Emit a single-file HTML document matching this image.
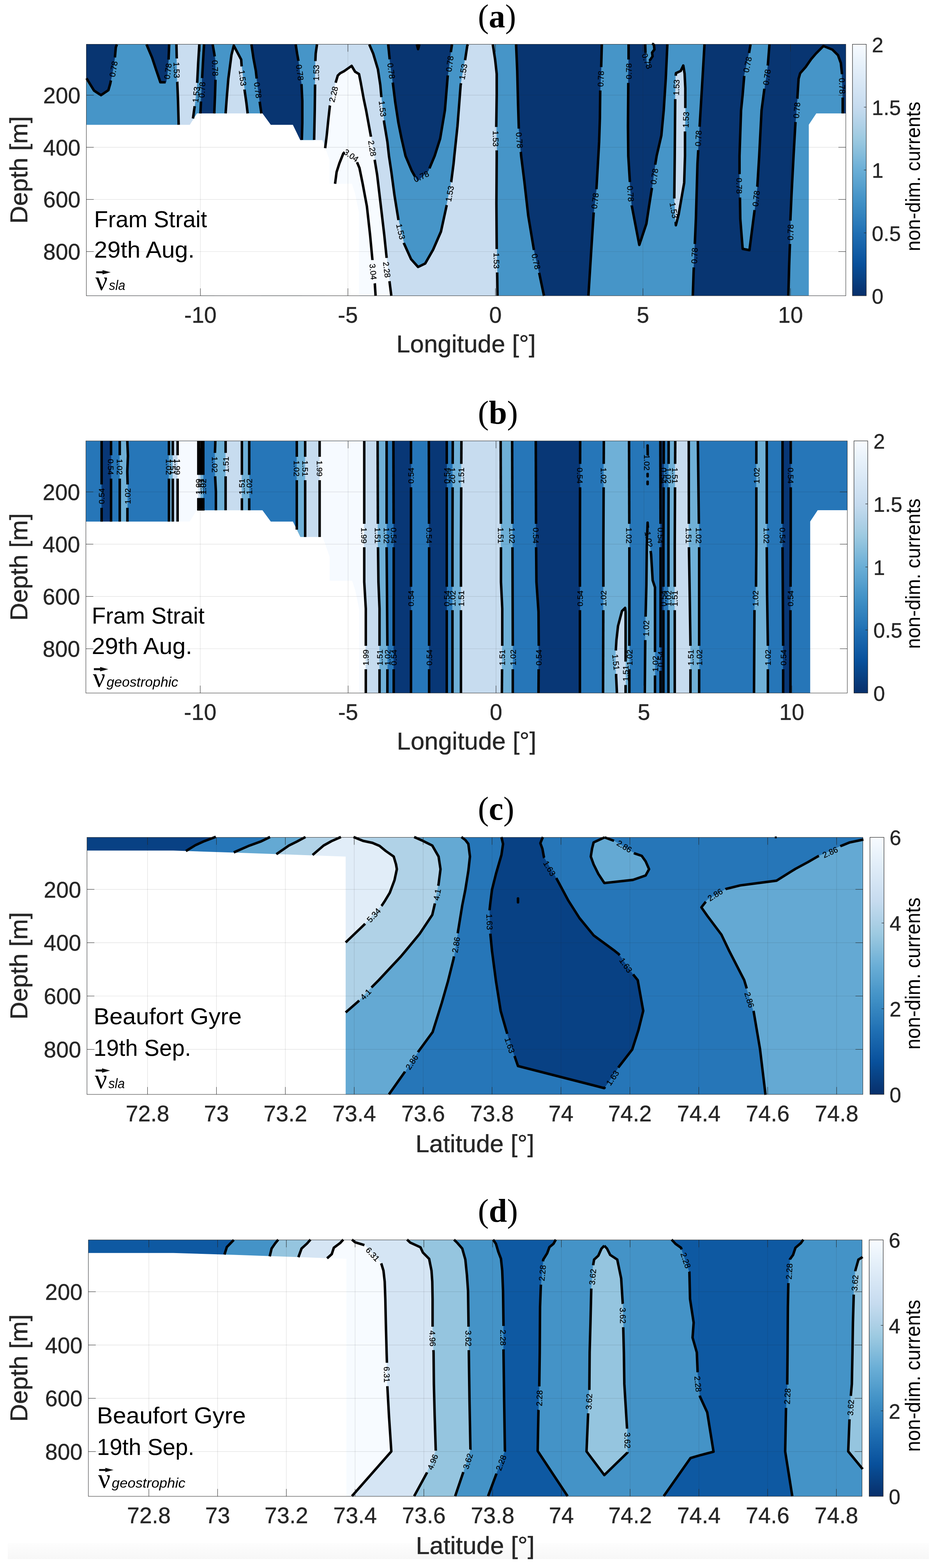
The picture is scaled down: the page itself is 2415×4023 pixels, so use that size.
<!DOCTYPE html>
<html lang="en">
<head>
<meta charset="utf-8">
<title>Non-dimensional currents: Fram Strait and Beaufort Gyre sections</title>
<style>
html,body{margin:0;padding:0;background:#fff;}
body{width:2415px;height:4023px;overflow:hidden;}
svg{display:block;}
text{white-space:pre;}
</style>
</head>
<body>
<svg width="2415" height="4023" viewBox="0 0 2415 4023">
<defs>
<linearGradient id="blues" x1="0" y1="0" x2="0" y2="1">
<stop offset="0.0000" stop-color="#f7fbff"/>
<stop offset="0.0312" stop-color="#f1f7fd"/>
<stop offset="0.0625" stop-color="#eaf3fb"/>
<stop offset="0.0938" stop-color="#e4eff9"/>
<stop offset="0.1250" stop-color="#deebf7"/>
<stop offset="0.1562" stop-color="#d8e7f5"/>
<stop offset="0.1875" stop-color="#d2e3f3"/>
<stop offset="0.2188" stop-color="#ccdff1"/>
<stop offset="0.2500" stop-color="#c6dbef"/>
<stop offset="0.2812" stop-color="#bcd7eb"/>
<stop offset="0.3125" stop-color="#b2d2e8"/>
<stop offset="0.3438" stop-color="#a8cee4"/>
<stop offset="0.3750" stop-color="#9dcae1"/>
<stop offset="0.4062" stop-color="#91c3de"/>
<stop offset="0.4375" stop-color="#84bcdb"/>
<stop offset="0.4688" stop-color="#77b5d9"/>
<stop offset="0.5000" stop-color="#6aaed6"/>
<stop offset="0.5312" stop-color="#60a7d2"/>
<stop offset="0.5625" stop-color="#56a0ce"/>
<stop offset="0.5938" stop-color="#4b98ca"/>
<stop offset="0.6250" stop-color="#4191c6"/>
<stop offset="0.6562" stop-color="#3989c1"/>
<stop offset="0.6875" stop-color="#3181bd"/>
<stop offset="0.7188" stop-color="#2979b9"/>
<stop offset="0.7500" stop-color="#2070b4"/>
<stop offset="0.7812" stop-color="#1a68ae"/>
<stop offset="0.8125" stop-color="#1460a8"/>
<stop offset="0.8438" stop-color="#0e58a2"/>
<stop offset="0.8750" stop-color="#08509b"/>
<stop offset="0.9062" stop-color="#08488e"/>
<stop offset="0.9375" stop-color="#084082"/>
<stop offset="0.9688" stop-color="#083776"/>
<stop offset="1.0000" stop-color="#08306b"/>
</linearGradient>
<linearGradient id="band" x1="0" y1="0" x2="0" y2="1">
<stop offset="0" stop-color="#fdfdfd"/>
<stop offset="1" stop-color="#f7f7f7"/>
</linearGradient>
</defs>
<rect width="2415" height="4023" fill="#fff"/>
<rect x="20" y="3959" width="2364" height="41" fill="url(#band)"/>
<g id="panel-a">
<clipPath id="clip-a"><rect x="221.6" y="113.6" width="1949.1" height="645.1999999999999"/></clipPath>
<g clip-path="url(#clip-a)">
<rect x="221.6" y="113.6" width="1949.1" height="645.1999999999999" fill="#4695c8"/>
<polygon fill="#083571" stroke="#083571" stroke-width="0.6" points="222.0,200.9 241.4,232.5 259.2,244.2 278.2,231.3 283.0,214.3 290.3,177.9 295.1,145.6 297.2,121.3 300.0,114.0 221.6,113.6"/>
<polygon fill="#083571" stroke="#083571" stroke-width="0.6" points="376.0,114.0 390.2,147.6 400.3,177.9 411.6,211.1 426.5,211.1 429.8,186.0 432.6,153.6 434.2,114.0"/>
<polygon fill="#083571" stroke="#083571" stroke-width="0.6" points="523.6,114.0 520.8,161.7 518.7,202.2 515.9,258.8 514.3,291.1 514.3,778.8 549.9,778.8 549.9,291.1 551.9,242.6 553.1,202.2 552.3,153.6 549.9,137.5 545.8,114.0"/>
<polygon fill="#083571" stroke="#083571" stroke-width="0.6" points="645.3,114.0 650.5,149.6 656.6,181.9 658.6,200.1 666.7,262.8 670.8,291.1 670.8,778.8 774.7,778.8 774.7,359.0 775.9,315.4 775.9,258.8 773.9,218.3 765.8,155.7 762.5,137.5 758.9,114.0"/>
<polygon fill="#083571" stroke="#083571" stroke-width="0.6" points="996.2,114.0 1000.3,153.6 1008.4,214.3 1014.4,262.8 1022.5,315.4 1030.6,355.8 1040.7,399.9 1056.9,438.4 1071.8,465.1 1099.3,438.4 1115.5,400.0 1129.6,355.8 1141.8,283.0 1149.1,194.1 1157.1,133.4 1160.0,114.0"/>
<polygon fill="#083571" stroke="#083571" stroke-width="0.6" points="1324.5,114.0 1327.4,181.9 1329.4,262.8 1331.4,327.5 1336.7,390.2 1337.5,400.0 1345.6,464.7 1355.7,553.6 1369.8,638.5 1384.0,701.2 1396.1,759.0 1396.1,778.8 1510.1,778.8 1510.1,759.0 1517.4,642.6 1523.5,547.6 1530.7,484.9 1535.6,400.0 1537.6,363.9 1539.6,303.2 1540.4,234.5 1542.9,173.9 1544.5,114.0"/>
<polygon fill="#083571" stroke="#083571" stroke-width="0.6" points="1613.2,114.0 1613.2,151.6 1612.4,214.3 1611.6,323.5 1612.4,400.0 1616.4,464.7 1621.3,527.4 1640.7,628.4 1658.9,573.9 1665.0,533.4 1673.0,482.9 1681.9,420.2 1685.2,399.9 1697.3,347.7 1703.4,283.0 1708.6,202.2 1712.7,114.0"/>
<polygon fill="#4695c8" stroke="#4695c8" stroke-width="0.6" points="1658.0,114.0 1676.0,114.0 1677.0,127.0 1671.0,135.0 1672.0,144.0 1665.0,156.0 1664.0,172.0 1660.0,160.0 1658.0,135.0"/>
<polygon fill="#083571" stroke="#083571" stroke-width="0.6" points="1808.0,114.0 1803.0,200.0 1797.0,300.0 1790.0,420.0 1786.0,560.0 1782.0,656.0 1780.0,700.0 1778.0,759.0 1778.0,778.8 2023.2,778.8 2023.2,759.0 2025.2,683.0 2027.3,626.4 2028.5,563.7 2031.3,501.1 2036.6,400.0 2041.4,315.4 2046.3,252.7 2049.5,202.2 2053.5,188.0 2067.7,171.8 2081.8,151.6 2094.0,137.5 2113.4,118.1 2136.4,127.4 2150.6,141.5 2157.9,161.7 2160.7,188.0 2162.7,250.7 2162.7,291.1 2175.7,291.0 2175.7,113.6"/>
<polygon fill="#4695c8" stroke="#4695c8" stroke-width="0.6" points="1926.2,114.0 1922.1,137.5 1910.0,194.1 1906.0,242.6 1901.9,283.0 1897.9,400.0 1897.9,444.5 1899.1,509.2 1899.9,561.7 1906.0,638.5 1923.4,641.8 1936.3,541.5 1943.6,478.8 1948.4,400.0 1954.5,283.0 1961.4,230.5 1970.7,165.8 1974.7,114.0"/>
<polygon fill="#c9ddf0" stroke="#c9ddf0" stroke-width="0.6" points="452.8,114.0 453.6,149.6 454.9,210.2 456.9,258.8 458.5,320.2 458.5,778.8 495.3,778.8 495.3,304.0 499.3,274.9 506.2,210.2 508.6,161.7 511.5,114.0"/>
<polygon fill="#c9ddf0" stroke="#c9ddf0" stroke-width="0.6" points="579.0,291.0 582.0,250.0 586.0,202.0 594.0,141.0 600.0,117.0 619.0,153.0 620.0,168.0 627.5,230.0 632.4,264.0 635.6,291.0 635.6,778.8 579.0,778.8"/>
<polygon fill="#c9ddf0" stroke="#c9ddf0" stroke-width="0.6" points="813.5,114.0 810.2,137.5 809.4,155.7 808.6,218.3 807.8,283.0 806.2,359.0 806.2,778.8 1276.8,778.8 1276.8,759.0 1276.0,699.2 1274.8,636.5 1274.0,521.3 1274.8,400.0 1274.8,388.1 1273.6,323.5 1274.8,242.6 1274.8,190.0 1270.8,153.6 1264.7,114.0 1201.0,114.0 1199.2,117.3 1194.3,149.6 1182.2,218.3 1174.1,323.5 1166.0,399.9 1164.0,420.2 1158.0,466.7 1145.8,529.4 1131.7,594.1 1111.5,640.6 1091.2,676.1 1073.0,685.0 1054.9,664.8 1036.7,624.4 1022.5,563.7 1012.4,501.1 1004.3,440.4 998.2,399.9 994.2,363.9 986.1,315.4 979.2,254.7 976.0,218.3 969.9,177.9 957.8,137.5 947.7,114.0"/>
<polygon fill="#f7fbff" stroke="#f7fbff" stroke-width="0.6" points="834.5,380.1 838.5,347.7 842.6,307.3 846.6,271.7 862.0,210.2 866.8,194.1 872.9,188.0 883.0,182.7 902.4,169.0 911.3,184.0 921.4,190.0 925.5,210.2 933.6,254.7 939.6,283.0 951.8,349.7 961.9,412.1 967.9,448.5 978.0,533.4 986.1,602.2 992.2,660.8 999.5,721.4 1004.3,759.0 1004.3,778.8 834.5,778.8"/>
<polygon fill="#c9ddf0" stroke="#c9ddf0" stroke-width="0.6" points="1734.1,194.3 1734.8,187.6 1746.9,182.2 1753.6,168.1 1757.0,189.0 1758.8,226.4 1758.8,277.0 1758.0,337.6 1758.0,400.0 1755.9,468.7 1741.8,549.6 1734.5,577.9 1730.5,507.1 1731.7,400.0 1732.9,254.7 1734.1,194.3"/>
<polygon fill="#fff" points="216.6,320.2 487.2,320.2 505.4,291.1 673.6,291.1 695.0,320.2 751.6,320.2 770.6,359.5 827.5,359.5 845.7,410.3 845.7,471.5 903.3,471.5 911.3,497.0 921.4,545.5 921.4,763.8 216.6,763.8"/>
<polygon fill="#fff" points="2175.7,291.0 2095.0,291.0 2075.7,320.0 2075.7,763.8 2175.7,763.8"/>
<g stroke="#262626" stroke-opacity="0.14" stroke-width="1.2">
<line x1="514.3" y1="113.6" x2="514.3" y2="758.8"/>
<line x1="892.9" y1="113.6" x2="892.9" y2="758.8"/>
<line x1="1271.5" y1="113.6" x2="1271.5" y2="758.8"/>
<line x1="1650.1" y1="113.6" x2="1650.1" y2="758.8"/>
<line x1="2028.7" y1="113.6" x2="2028.7" y2="758.8"/>
<line x1="221.6" y1="244.2" x2="2170.7" y2="244.2"/>
<line x1="221.6" y1="377.9" x2="2170.7" y2="377.9"/>
<line x1="221.6" y1="511.7" x2="2170.7" y2="511.7"/>
<line x1="221.6" y1="645.5" x2="2170.7" y2="645.5"/>
</g>
</g>
<g fill="none" stroke="#000" stroke-width="6.4" stroke-linejoin="round" stroke-linecap="butt">
<polyline points="222.0,200.9 241.4,232.5 259.2,244.2 278.2,231.3 283.0,214.3 284.6,206.4"/>
<polyline points="294.9,147.3 295.1,145.6 297.2,121.3 300.0,114.0"/>
<polyline points="376.0,114.0 390.2,147.6 400.3,177.9 411.6,211.1 425.1,211.1"/>
<polyline points="432.6,152.8 434.2,114.0"/>
<polyline points="452.8,114.0 453.6,149.6 453.6,149.9"/>
<polyline points="454.8,209.9 454.9,210.2 456.9,258.8 458.5,320.2"/>
<polyline points="511.5,114.0 508.6,161.7 506.2,210.2 505.9,212.7"/>
<polyline points="499.6,272.4 499.3,274.9 495.3,304.0"/>
<polyline points="523.6,114.0 520.8,161.7 518.8,200.4"/>
<polyline points="515.8,260.4 514.3,291.1"/>
<polyline points="545.8,114.0 549.9,137.5 551.0,144.8"/>
<polyline points="553.0,204.7 551.9,242.6 549.9,291.1"/>
<polyline points="579.0,291.0 582.0,250.0 586.0,202.0 594.0,141.0 600.0,117.0 619.0,153.0 620.0,168.0 620.3,170.3"/>
<polyline points="627.5,229.8 627.5,230.0 632.4,264.0 635.6,291.0"/>
<polyline points="645.3,114.0 650.5,149.6 656.6,181.9 658.6,200.1 658.8,201.4"/>
<polyline points="666.5,260.9 666.7,262.8 670.8,291.1"/>
<polyline points="758.9,114.0 762.5,137.5 765.8,155.7 765.8,156.2"/>
<polyline points="773.5,215.8 773.9,218.3 775.9,258.8 775.9,315.4 774.7,359.0"/>
<polyline points="813.5,114.0 810.2,137.5 809.4,155.7 809.4,156.8"/>
<polyline points="808.6,216.8 808.6,218.3 807.8,283.0 806.2,359.0"/>
<polyline points="834.5,380.1 838.5,347.7 842.6,307.3 846.6,271.7 846.9,270.6"/>
<polyline points="861.5,212.3 862.0,210.2 866.8,194.1 872.9,188.0 883.0,182.7 902.4,169.0 911.3,184.0 921.4,190.0 925.5,210.2 933.6,254.7 939.6,283.0 951.8,349.7 951.9,350.7"/>
<polyline points="961.5,409.9 961.9,412.1 967.9,448.5 978.0,533.4 986.1,602.2 992.2,660.8 992.3,661.8"/>
<polyline points="999.5,721.4 999.5,721.4 1004.3,759.0"/>
<polyline points="947.7,114.0 957.8,137.5 969.9,177.9 976.0,218.3 978.8,249.2"/>
<polyline points="985.4,308.8 986.1,315.4 994.2,363.9 998.2,399.9 1004.3,440.4 1012.4,501.1 1022.5,563.7 1022.7,564.6"/>
<polyline points="1036.3,623.1 1036.7,624.4 1054.9,664.8 1073.0,685.0 1091.2,676.1 1111.5,640.6 1131.7,594.1 1145.8,529.4 1146.4,526.1"/>
<polyline points="1157.8,467.2 1158.0,466.7 1164.0,420.2 1166.0,399.9 1174.1,323.5 1182.2,218.3 1183.1,213.5"/>
<polyline points="1193.5,154.4 1194.3,149.6 1199.2,117.3 1201.0,114.0"/>
<polyline points="996.2,114.0 1000.1,152.2"/>
<polyline points="1008.0,211.7 1008.4,214.3 1014.4,262.8 1022.5,315.4 1030.6,355.8 1040.7,399.9 1056.9,438.4 1064.7,452.4"/>
<polyline points="1102.1,431.9 1115.5,400.0 1129.6,355.8 1141.8,283.0 1149.1,194.1 1149.1,193.4"/>
<polyline points="1157.1,133.9 1157.1,133.4 1160.0,114.0"/>
<polyline points="1264.7,114.0 1270.8,153.6 1274.8,190.0 1274.8,242.6 1273.6,323.5 1273.6,325.8"/>
<polyline points="1274.8,385.8 1274.8,388.1 1274.8,400.0 1274.0,521.3 1274.8,636.5 1274.8,638.9"/>
<polyline points="1276.0,698.9 1276.0,699.2 1276.8,759.0"/>
<polyline points="1324.5,114.0 1327.4,181.9 1329.4,262.8 1331.4,327.5 1331.6,329.9"/>
<polyline points="1336.6,389.7 1336.7,390.2 1337.5,400.0 1345.6,464.7 1355.7,553.6 1369.8,638.5 1370.4,641.4"/>
<polyline points="1383.7,699.9 1384.0,701.2 1396.1,759.0"/>
<polyline points="1544.5,114.0 1542.9,172.2"/>
<polyline points="1540.5,232.1 1540.4,234.5 1539.6,303.2 1537.6,363.9 1535.6,400.0 1530.7,484.9 1530.7,485.5"/>
<polyline points="1523.7,545.1 1523.5,547.6 1517.4,642.6 1510.1,759.0"/>
<polyline points="1613.2,114.0 1613.2,151.6 1613.2,152.7"/>
<polyline points="1612.4,212.7 1612.4,214.3 1611.6,323.5 1612.4,400.0 1616.4,464.7 1616.6,467.1"/>
<polyline points="1621.3,526.9 1621.3,527.4 1640.7,628.4 1658.9,573.9 1665.0,533.4 1673.0,482.9 1673.2,482.0"/>
<polyline points="1681.6,422.6 1681.9,420.2 1685.2,399.9 1697.3,347.7 1703.4,283.0 1708.6,202.2 1712.7,114.0"/>
<polyline points="1655.9,113.5 1656.6,136.0"/>
<polyline points="1673.5,111.5 1678.2,114.8 1679.5,127.0 1673.5,135.0 1674.8,144.5 1667.4,155.3"/>
<polyline points="1734.1,194.3 1734.8,187.6 1746.9,182.2 1753.6,168.1 1757.0,189.0 1758.8,226.4 1758.8,277.0 1758.8,277.3"/>
<polyline points="1758.0,337.3 1758.0,337.6 1758.0,400.0 1755.9,468.7 1741.8,549.6 1734.5,577.9 1734.0,569.3"/>
<polyline points="1730.6,509.4 1730.5,507.1 1731.7,400.0 1732.9,254.7 1732.9,254.3"/>
<polyline points="1808.0,114.0 1803.0,200.0 1797.0,300.0 1795.5,325.2"/>
<polyline points="1792.0,385.1 1790.0,420.0 1786.0,560.0 1783.2,626.0"/>
<polyline points="1780.6,686.0 1780.0,700.0 1778.0,759.0"/>
<polyline points="1926.2,114.0 1922.4,136.0"/>
<polyline points="1910.0,194.7 1906.0,242.6 1901.9,283.0 1897.9,400.0 1897.9,444.5 1897.9,446.8"/>
<polyline points="1899.1,506.8 1899.1,509.2 1899.9,561.7 1906.0,638.5 1923.4,641.8 1936.3,541.5 1936.6,538.9"/>
<polyline points="1943.5,479.3 1943.6,478.8 1948.4,400.0 1954.5,283.0 1961.4,230.5 1961.8,227.6"/>
<polyline points="1970.3,168.2 1970.7,165.8 1974.7,114.0"/>
<polyline points="2023.2,759.0 2025.2,683.0 2027.3,626.4 2027.3,626.1"/>
<polyline points="2028.4,566.1 2028.5,563.7 2031.3,501.1 2036.6,400.0 2041.4,315.4 2041.6,312.9"/>
<polyline points="2046.2,253.1 2046.3,252.7 2049.5,202.2 2053.5,188.0 2067.7,171.8 2081.8,151.6 2094.0,137.5 2113.4,118.1 2136.4,127.4 2150.6,141.5 2157.9,161.7 2160.7,188.0 2160.8,190.4"/>
<polyline points="2162.7,250.3 2162.7,250.7 2162.7,291.1"/>
<polyline points="859.9,471.5 863.9,441.2 871.0,419.0 881.1,393.7 884.5,390.4"/>
<polyline points="916.3,416.1 917.5,419.0 922.5,431.0 930.8,471.5 941.6,529.4 949.7,602.2 955.8,666.8 955.8,667.2"/>
<polyline points="961.8,726.9 961.9,727.5 963.9,759.0"/>
<polyline points="1069.8,114.0 1073.0,126.1 1076.3,114.0"/>
</g>
<g font-family="'Liberation Sans', sans-serif" font-size="21" fill="#000" stroke="#000" stroke-width="0.35" text-anchor="middle">
<text transform="translate(291.1 177.1) rotate(-80.1)" y="7.6">0.78</text>
<text transform="translate(430.6 182.7) rotate(-82.6)" y="7.6">0.78</text>
<text transform="translate(453.6 179.9) rotate(88.9)" y="7.6">1.53</text>
<text transform="translate(503.0 242.6) rotate(-83.9)" y="7.6">1.53</text>
<text transform="translate(518.3 230.5) rotate(-87.1)" y="7.6">0.78</text>
<text transform="translate(552.3 174.7) rotate(88.0)" y="7.6">0.78</text>
<text transform="translate(623.0 200.1) rotate(83.1)" y="7.6">1.53</text>
<text transform="translate(661.9 231.3) rotate(82.6)" y="7.6">0.78</text>
<text transform="translate(769.8 186.0) rotate(82.6)" y="7.6">0.78</text>
<text transform="translate(811.1 186.8) rotate(-89.3)" y="7.6">1.53</text>
<text transform="translate(855.5 241.8) rotate(-76.0)" y="7.6">2.28</text>
<text transform="translate(955.5 380.5) rotate(80.8)" y="7.6">2.28</text>
<text transform="translate(993.0 691.9) rotate(83.2)" y="7.6">2.28</text>
<text transform="translate(982.1 279.0) rotate(83.7)" y="7.6">1.53</text>
<text transform="translate(1028.6 594.1) rotate(76.9)" y="7.6">1.53</text>
<text transform="translate(1153.9 497.0) rotate(-79.0)" y="7.6">1.53</text>
<text transform="translate(1188.3 184.0) rotate(-80.0)" y="7.6">1.53</text>
<text transform="translate(1004.3 181.9) rotate(82.4)" y="7.6">0.78</text>
<text transform="translate(1081.1 452.6) rotate(-25.0)" y="7.6">0.78</text>
<text transform="translate(1153.9 163.7) rotate(-82.4)" y="7.6">0.78</text>
<text transform="translate(1272.8 355.8) rotate(90.0)" y="7.6">1.53</text>
<text transform="translate(1274.8 668.9) rotate(90.0)" y="7.6">1.53</text>
<text transform="translate(1333.4 359.8) rotate(85.2)" y="7.6">0.78</text>
<text transform="translate(1375.9 670.9) rotate(77.3)" y="7.6">0.78</text>
<text transform="translate(1541.6 202.2) rotate(-87.7)" y="7.6">0.78</text>
<text transform="translate(1526.7 515.2) rotate(-83.4)" y="7.6">0.78</text>
<text transform="translate(1613.2 182.7) rotate(-90.0)" y="7.6">0.78</text>
<text transform="translate(1618.5 497.0) rotate(85.6)" y="7.6">0.78</text>
<text transform="translate(1679.1 452.6) rotate(-81.9)" y="7.6">0.78</text>
<text transform="translate(1660.6 156.6) rotate(70.0)" y="7.6">0.78</text>
<text transform="translate(1735.7 224.4) rotate(-88.0)" y="7.6">1.53</text>
<text transform="translate(1760.0 307.3) rotate(-88.0)" y="7.6">1.53</text>
<text transform="translate(1729.6 539.5) rotate(80.0)" y="7.6">1.53</text>
<text transform="translate(1792.0 355.0) rotate(-86.7)" y="7.6">0.78</text>
<text transform="translate(1782.0 656.0) rotate(-87.5)" y="7.6">0.78</text>
<text transform="translate(1918.1 165.8) rotate(-78.0)" y="7.6">0.78</text>
<text transform="translate(1897.9 476.8) rotate(90.0)" y="7.6">0.78</text>
<text transform="translate(1940.3 509.2) rotate(-83.4)" y="7.6">0.78</text>
<text transform="translate(1967.8 198.1) rotate(-81.8)" y="7.6">0.78</text>
<text transform="translate(2028.5 596.1) rotate(-88.9)" y="7.6">0.78</text>
<text transform="translate(2044.6 283.0) rotate(-85.6)" y="7.6">0.78</text>
<text transform="translate(2161.5 220.4) rotate(88.0)" y="7.6">0.78</text>
<text transform="translate(901.3 398.7) rotate(35.0)" y="7.6">3.04</text>
<text transform="translate(957.8 697.2) rotate(84.3)" y="7.6">3.04</text>
</g>
<g stroke="#262626" stroke-width="1" fill="none">
<rect x="221.6" y="113.6" width="1949.1" height="645.1999999999999"/>
<line x1="514.3" y1="758.8" x2="514.3" y2="739.8"/>
<line x1="514.3" y1="113.6" x2="514.3" y2="132.6"/>
<line x1="892.9" y1="758.8" x2="892.9" y2="739.8"/>
<line x1="892.9" y1="113.6" x2="892.9" y2="132.6"/>
<line x1="1271.5" y1="758.8" x2="1271.5" y2="739.8"/>
<line x1="1271.5" y1="113.6" x2="1271.5" y2="132.6"/>
<line x1="1650.1" y1="758.8" x2="1650.1" y2="739.8"/>
<line x1="1650.1" y1="113.6" x2="1650.1" y2="132.6"/>
<line x1="2028.7" y1="758.8" x2="2028.7" y2="739.8"/>
<line x1="2028.7" y1="113.6" x2="2028.7" y2="132.6"/>
<line x1="221.6" y1="244.2" x2="240.6" y2="244.2"/>
<line x1="2170.7" y1="244.2" x2="2151.7" y2="244.2"/>
<line x1="221.6" y1="377.9" x2="240.6" y2="377.9"/>
<line x1="2170.7" y1="377.9" x2="2151.7" y2="377.9"/>
<line x1="221.6" y1="511.7" x2="240.6" y2="511.7"/>
<line x1="2170.7" y1="511.7" x2="2151.7" y2="511.7"/>
<line x1="221.6" y1="645.5" x2="240.6" y2="645.5"/>
<line x1="2170.7" y1="645.5" x2="2151.7" y2="645.5"/>
</g>
<g font-family="'Liberation Sans', sans-serif" font-size="57.5" fill="#262626" stroke="#262626" stroke-width="0.5">
<text x="514.3" y="827.6" text-anchor="middle">-10</text>
<text x="892.9" y="827.6" text-anchor="middle">-5</text>
<text x="1271.5" y="827.6" text-anchor="middle">0</text>
<text x="1650.1" y="827.6" text-anchor="middle">5</text>
<text x="2028.7" y="827.6" text-anchor="middle">10</text>
<text x="206.6" y="264.9" text-anchor="end">200</text>
<text x="206.6" y="398.6" text-anchor="end">400</text>
<text x="206.6" y="532.4" text-anchor="end">600</text>
<text x="206.6" y="666.2" text-anchor="end">800</text>
</g>
<text font-family="'Liberation Sans', sans-serif" font-size="63.6" fill="#262626" stroke="#262626" stroke-width="0.6" text-anchor="middle" x="1196.1" y="903.9">Longitude [°]</text>
<text font-family="'Liberation Sans', sans-serif" font-size="63.6" fill="#262626" stroke="#262626" stroke-width="0.6" text-anchor="middle" transform="translate(70.3 436.2) rotate(-90)">Depth [m]</text>
<text font-family="'Liberation Serif', serif" font-size="84" fill="#000" text-anchor="start" x="1226.5" y="70.1">(<tspan font-weight="bold">a</tspan>)</text>
<g font-family="'Liberation Sans', sans-serif" font-size="59.7" fill="#000">
<text x="241.6" y="583.1" textLength="289.7" lengthAdjust="spacingAndGlyphs">Fram Strait</text>
<text x="241.6" y="661.3" textLength="257.9" lengthAdjust="spacingAndGlyphs">29th Aug.</text>
</g>
<text font-family="'Liberation Serif', serif" font-size="70" fill="#000" x="244.6" y="743.5">ν</text>
<text font-family="'Liberation Sans', sans-serif" font-style="italic" font-size="35" fill="#000" x="279.6" y="743.5" textLength="42" lengthAdjust="spacingAndGlyphs">sla</text>
<path d="M247.1 695.9 h16.0 v-3 l21 5.6 l-21 5.6 v-3 h-16.0 z" fill="#111"/>
<rect x="2187.8" y="113.6" width="35.4" height="645.1999999999999" fill="url(#blues)"/>
<g stroke="#262626" stroke-width="1.2" fill="none">
<rect x="2187.8" y="113.6" width="35.4" height="645.1999999999999"/>
<line x1="2217.2" y1="597.5" x2="2223.2" y2="597.5"/>
<line x1="2217.2" y1="436.2" x2="2223.2" y2="436.2"/>
<line x1="2217.2" y1="274.9" x2="2223.2" y2="274.9"/>
</g>
<g font-family="'Liberation Sans', sans-serif" font-size="53.5" fill="#262626" stroke="#262626" stroke-width="0.5">
<text x="2237.6" y="778.8">0</text>
<text x="2237.6" y="617.5">0.5</text>
<text x="2237.6" y="456.2">1</text>
<text x="2237.6" y="294.9">1.5</text>
<text x="2237.6" y="133.6">2</text>
</g>
<text font-family="'Liberation Sans', sans-serif" font-size="52" fill="#000" text-anchor="middle" transform="translate(2360.5 452.7) rotate(-90)" textLength="383.5" lengthAdjust="spacingAndGlyphs">non-dim. currents</text>
</g>
<g id="panel-b">
<clipPath id="clip-b"><rect x="220.4" y="1131.2" width="1954.1" height="646.8999999999999"/></clipPath>
<g clip-path="url(#clip-b)">
<rect x="220.4" y="1131.2" width="1954.1" height="646.8999999999999" fill="#2676b8"/>
<polygon fill="#083776" stroke="#083776" stroke-width="0.6" points="260.8,1131.2 260.8,1338.3 260.8,1818.1 285.0,1818.1 285.0,1338.3 285.0,1131.2"/>
<polygon fill="#6fb0d7" stroke="#6fb0d7" stroke-width="0.6" points="307.3,1131.2 307.3,1338.3 307.3,1818.1 327.0,1818.1 327.0,1338.3 327.0,1300.0 327.5,1242.6 326.7,1210.0 328.3,1169.8 326.7,1131.2"/>
<polygon fill="#6fb0d7" stroke="#6fb0d7" stroke-width="0.6" points="433.6,1131.2 433.6,1338.3 433.6,1818.1 443.5,1818.1 443.5,1338.3 443.5,1131.2"/>
<polygon fill="#c7dcef" stroke="#c7dcef" stroke-width="0.6" points="443.5,1131.2 443.5,1338.3 443.5,1818.1 455.8,1818.1 455.8,1338.3 455.8,1131.2"/>
<polygon fill="#f6faff" stroke="#f6faff" stroke-width="0.6" points="455.8,1131.2 455.8,1338.3 455.8,1818.1 509.0,1818.1 509.0,1309.2 509.0,1131.2"/>
<polygon fill="#c7dcef" stroke="#c7dcef" stroke-width="0.6" points="509.0,1131.2 509.0,1309.2 509.0,1818.1 515.3,1818.1 515.3,1309.2 515.3,1131.2"/>
<polygon fill="#6fb0d7" stroke="#6fb0d7" stroke-width="0.6" points="515.3,1131.2 515.3,1309.2 515.3,1818.1 521.6,1818.1 521.6,1309.2 521.6,1131.2"/>
<polygon fill="#6fb0d7" stroke="#6fb0d7" stroke-width="0.6" points="552.7,1131.2 551.7,1161.5 552.1,1222.0 554.1,1261.5 554.1,1309.2 554.1,1818.1 579.0,1818.1 579.0,1309.2 579.0,1131.2"/>
<polygon fill="#c7dcef" stroke="#c7dcef" stroke-width="0.6" points="579.0,1131.2 579.0,1309.2 579.0,1818.1 620.8,1818.1 620.8,1309.2 620.8,1131.2"/>
<polygon fill="#6fb0d7" stroke="#6fb0d7" stroke-width="0.6" points="620.8,1131.2 620.8,1309.2 620.8,1818.1 639.6,1818.1 639.6,1309.2 639.6,1131.2"/>
<polygon fill="#6fb0d7" stroke="#6fb0d7" stroke-width="0.6" points="761.7,1131.2 761.7,1358.9 761.7,1818.1 783.2,1818.1 783.2,1377.7 783.2,1131.2"/>
<polygon fill="#c7dcef" stroke="#c7dcef" stroke-width="0.6" points="783.2,1131.2 783.2,1377.7 783.2,1818.1 820.3,1818.1 820.3,1377.7 820.3,1131.2"/>
<polygon fill="#f6faff" stroke="#f6faff" stroke-width="0.6" points="820.3,1131.2 820.3,1377.7 820.3,1818.1 938.8,1818.1 938.8,1778.1 938.8,1561.7 934.8,1493.0 934.8,1131.2"/>
<polygon fill="#c7dcef" stroke="#c7dcef" stroke-width="0.6" points="934.8,1131.2 934.8,1493.0 938.8,1561.7 938.8,1778.1 938.8,1818.1 974.0,1818.1 974.0,1778.1 974.0,1561.7 971.2,1493.0 970.0,1400.0 969.1,1131.2"/>
<polygon fill="#6fb0d7" stroke="#6fb0d7" stroke-width="0.6" points="969.1,1131.2 970.0,1400.0 971.2,1493.0 974.0,1561.7 974.0,1778.1 974.0,1818.1 994.2,1818.1 994.2,1778.1 994.2,1656.0 992.2,1400.0 992.2,1131.2"/>
<polygon fill="#083776" stroke="#083776" stroke-width="0.6" points="1009.6,1131.2 1010.4,1400.0 1010.4,1778.1 1010.4,1818.1 1054.8,1818.1 1054.8,1778.1 1054.8,1131.2"/>
<polygon fill="#083776" stroke="#083776" stroke-width="0.6" points="1100.5,1131.2 1101.3,1400.0 1101.3,1778.1 1101.3,1818.1 1146.6,1818.1 1146.6,1778.1 1146.6,1131.2"/>
<polygon fill="#6fb0d7" stroke="#6fb0d7" stroke-width="0.6" points="1162.0,1131.2 1161.2,1400.0 1161.2,1778.1 1161.2,1818.1 1183.0,1818.1 1183.0,1778.1 1183.0,1400.0 1184.2,1131.2"/>
<polygon fill="#c7dcef" stroke="#c7dcef" stroke-width="0.6" points="1184.2,1131.2 1183.0,1400.0 1183.0,1778.1 1183.0,1818.1 1288.0,1818.1 1288.0,1778.1 1289.0,1656.7 1289.0,1561.7 1285.7,1493.0 1285.7,1400.0 1284.9,1131.2"/>
<polygon fill="#6fb0d7" stroke="#6fb0d7" stroke-width="0.6" points="1284.9,1131.2 1285.7,1400.0 1285.7,1493.0 1289.0,1561.7 1289.0,1656.7 1288.0,1778.1 1288.0,1818.1 1316.0,1818.1 1316.0,1778.1 1316.0,1656.0 1315.2,1400.0 1314.4,1131.2"/>
<polygon fill="#083776" stroke="#083776" stroke-width="0.6" points="1375.0,1131.2 1375.9,1400.0 1376.7,1493.0 1382.0,1569.8 1382.7,1656.7 1382.0,1778.1 1382.0,1818.1 1488.3,1818.1 1488.3,1778.1 1488.3,1400.0 1489.0,1131.2"/>
<polygon fill="#6fb0d7" stroke="#6fb0d7" stroke-width="0.6" points="1549.7,1131.2 1548.5,1400.0 1548.5,1504.0 1547.7,1778.1 1547.7,1818.1 1615.2,1818.1 1615.2,1778.1 1615.2,1400.0 1614.4,1131.2"/>
<polygon fill="#083776" stroke="#083776" stroke-width="0.6" points="1694.7,1131.2 1695.3,1400.0 1695.3,1778.1 1695.3,1818.1 1702.6,1818.1 1702.6,1778.1 1702.6,1400.0 1703.5,1131.2"/>
<polygon fill="#6fb0d7" stroke="#6fb0d7" stroke-width="0.6" points="1716.0,1131.2 1715.5,1400.0 1715.5,1778.1 1715.5,1818.1 1731.7,1818.1 1731.7,1778.1 1731.7,1400.0 1733.0,1131.2"/>
<polygon fill="#c7dcef" stroke="#c7dcef" stroke-width="0.6" points="1733.0,1131.2 1731.7,1400.0 1731.7,1778.1 1731.7,1818.1 1772.0,1818.1 1772.0,1778.1 1772.0,1656.7 1770.0,1521.0 1768.0,1400.0 1767.6,1131.2"/>
<polygon fill="#6fb0d7" stroke="#6fb0d7" stroke-width="0.6" points="1767.6,1131.2 1768.0,1400.0 1770.0,1521.0 1772.0,1656.7 1772.0,1778.1 1772.0,1818.1 1794.3,1818.1 1794.3,1778.1 1794.3,1400.0 1791.0,1131.2"/>
<polygon fill="#6fb0d7" stroke="#6fb0d7" stroke-width="0.6" points="1941.1,1131.2 1941.1,1400.0 1940.3,1504.3 1936.3,1565.8 1935.1,1778.1 1935.1,1818.1 1970.7,1818.1 1970.7,1778.1 1970.7,1656.7 1968.6,1521.3 1967.8,1404.0 1967.8,1131.2"/>
<polygon fill="#083776" stroke="#083776" stroke-width="0.6" points="2008.3,1131.2 2008.3,1404.0 2009.9,1656.7 2009.9,1778.1 2009.9,1818.1 2028.5,1818.1 2028.5,1778.1 2028.5,1565.8 2029.3,1400.0 2029.3,1131.2"/>
<polygon fill="#c7dcef" stroke="#c7dcef" stroke-width="0.6" points="1583.3,1778.1 1581.3,1735.6 1580.0,1675.0 1582.0,1642.6 1586.1,1606.2 1596.2,1567.8 1604.3,1559.7 1605.5,1569.8 1605.5,1695.0 1605.5,1778.1 1605.5,1808.1 1583.3,1808.1"/>
<polygon fill="#6fb0d7" stroke="#6fb0d7" stroke-width="0.6" points="1654.8,1778.1 1656.0,1642.6 1656.9,1582.0 1658.9,1501.0 1660.0,1400.0 1662.0,1341.0 1665.0,1384.0 1671.0,1422.0 1675.0,1489.0 1681.0,1507.0 1681.0,1778.1 1681.0,1808.1 1654.8,1808.1"/>
<polygon fill="#fff" points="215.4,1338.3 486.7,1338.3 504.9,1309.2 673.6,1309.2 695.0,1338.3 751.8,1338.3 770.8,1377.7 827.9,1377.7 846.1,1428.7 846.1,1490.0 903.8,1490.0 911.9,1515.6 922.0,1564.2 922.0,1783.1 215.4,1783.1"/>
<polygon fill="#fff" points="2179.5,1309.1 2098.6,1309.1 2079.3,1338.1 2079.3,1783.1 2179.5,1783.1"/>
<g stroke="#262626" stroke-opacity="0.14" stroke-width="1.2">
<line x1="513.9" y1="1131.2" x2="513.9" y2="1778.1"/>
<line x1="893.4" y1="1131.2" x2="893.4" y2="1778.1"/>
<line x1="1273.0" y1="1131.2" x2="1273.0" y2="1778.1"/>
<line x1="1652.6" y1="1131.2" x2="1652.6" y2="1778.1"/>
<line x1="2032.1" y1="1131.2" x2="2032.1" y2="1778.1"/>
<line x1="220.4" y1="1262.1" x2="2174.5" y2="1262.1"/>
<line x1="220.4" y1="1396.2" x2="2174.5" y2="1396.2"/>
<line x1="220.4" y1="1530.3" x2="2174.5" y2="1530.3"/>
<line x1="220.4" y1="1664.5" x2="2174.5" y2="1664.5"/>
</g>
</g>
<g fill="none" stroke="#000" stroke-width="6.4" stroke-linejoin="round" stroke-linecap="butt">
<polyline points="260.8,1131.2 260.8,1242.9"/>
<polyline points="260.8,1302.9 260.8,1338.3"/>
<polyline points="285.0,1131.2 285.0,1168.0"/>
<polyline points="285.0,1228.0 285.0,1338.3"/>
<polyline points="307.3,1131.2 307.3,1168.0"/>
<polyline points="307.3,1228.0 307.3,1338.3"/>
<polyline points="326.7,1131.2 328.3,1169.8 326.7,1210.0 327.5,1242.6 327.5,1242.9"/>
<polyline points="327.0,1302.9 327.0,1338.3"/>
<polyline points="433.6,1131.2 433.6,1168.0"/>
<polyline points="433.6,1228.0 433.6,1338.3"/>
<polyline points="443.5,1131.2 443.5,1168.0"/>
<polyline points="443.5,1228.0 443.5,1338.3"/>
<polyline points="455.8,1131.2 455.8,1168.0"/>
<polyline points="455.8,1228.0 455.8,1338.3"/>
<polyline points="509.0,1131.2 509.0,1218.4"/>
<polyline points="509.0,1278.4 509.0,1309.2"/>
<polyline points="515.3,1131.2 515.3,1218.4"/>
<polyline points="515.3,1278.4 515.3,1309.2"/>
<polyline points="521.6,1131.2 521.6,1218.4"/>
<polyline points="521.6,1278.4 521.6,1309.2"/>
<polyline points="552.7,1131.2 551.7,1161.5 551.7,1162.0"/>
<polyline points="552.1,1222.0 552.1,1222.0 554.1,1261.5 554.1,1309.2"/>
<polyline points="579.0,1131.2 579.0,1162.0"/>
<polyline points="579.0,1222.0 579.0,1309.2"/>
<polyline points="620.8,1131.2 620.8,1218.4"/>
<polyline points="620.8,1278.4 620.8,1309.2"/>
<polyline points="639.6,1131.2 639.6,1218.4"/>
<polyline points="639.6,1278.4 639.6,1309.2"/>
<polyline points="761.7,1131.2 761.7,1172.0"/>
<polyline points="761.7,1232.0 761.7,1358.9"/>
<polyline points="783.2,1131.2 783.2,1172.0"/>
<polyline points="783.2,1232.0 783.2,1377.7"/>
<polyline points="820.3,1131.2 820.3,1172.0"/>
<polyline points="820.3,1232.0 820.3,1377.7"/>
<polyline points="934.8,1131.2 934.8,1344.0"/>
<polyline points="934.8,1404.0 934.8,1493.0 938.8,1561.7 938.8,1657.0"/>
<polyline points="938.8,1717.0 938.8,1778.1"/>
<polyline points="969.1,1131.2 969.8,1344.0"/>
<polyline points="970.1,1404.0 971.2,1493.0 974.0,1561.7 974.0,1657.0"/>
<polyline points="974.0,1717.0 974.0,1778.1"/>
<polyline points="992.2,1131.2 992.2,1344.0"/>
<polyline points="992.2,1404.0 994.2,1656.0 994.2,1657.0"/>
<polyline points="994.2,1717.0 994.2,1778.1"/>
<polyline points="1009.6,1131.2 1010.2,1344.0"/>
<polyline points="1010.4,1404.0 1010.4,1657.0"/>
<polyline points="1010.4,1717.0 1010.4,1778.1"/>
<polyline points="1054.8,1131.2 1054.8,1190.3"/>
<polyline points="1054.8,1250.3 1054.8,1505.4"/>
<polyline points="1054.8,1565.4 1054.8,1778.1"/>
<polyline points="1100.5,1131.2 1101.1,1344.0"/>
<polyline points="1101.3,1404.0 1101.3,1657.0"/>
<polyline points="1101.3,1717.0 1101.3,1778.1"/>
<polyline points="1146.6,1131.2 1146.6,1190.3"/>
<polyline points="1146.6,1250.3 1146.6,1505.4"/>
<polyline points="1146.6,1565.4 1146.6,1778.1"/>
<polyline points="1162.0,1131.2 1161.8,1190.3"/>
<polyline points="1161.6,1250.3 1161.2,1400.0 1161.2,1505.4"/>
<polyline points="1161.2,1565.4 1161.2,1778.1"/>
<polyline points="1184.2,1131.2 1183.9,1190.3"/>
<polyline points="1183.7,1250.3 1183.0,1400.0 1183.0,1505.4"/>
<polyline points="1183.0,1565.4 1183.0,1778.1"/>
<polyline points="1284.9,1131.2 1285.5,1344.0"/>
<polyline points="1285.7,1404.0 1285.7,1493.0 1289.0,1561.7 1289.0,1656.7 1289.0,1657.0"/>
<polyline points="1288.5,1717.0 1288.0,1778.1"/>
<polyline points="1314.4,1131.2 1315.0,1344.0"/>
<polyline points="1315.2,1404.0 1316.0,1656.0 1316.0,1657.0"/>
<polyline points="1316.0,1717.0 1316.0,1778.1"/>
<polyline points="1375.0,1131.2 1375.7,1344.0"/>
<polyline points="1375.9,1404.0 1376.7,1493.0 1382.0,1569.8 1382.7,1656.7 1382.7,1657.0"/>
<polyline points="1382.4,1717.0 1382.0,1778.1"/>
<polyline points="1489.0,1131.2 1488.8,1190.3"/>
<polyline points="1488.7,1250.3 1488.3,1400.0 1488.3,1505.4"/>
<polyline points="1488.3,1565.4 1488.3,1778.1"/>
<polyline points="1549.7,1131.2 1549.4,1190.3"/>
<polyline points="1549.2,1250.3 1548.5,1400.0 1548.5,1504.0 1548.5,1505.4"/>
<polyline points="1548.3,1565.4 1547.7,1778.1"/>
<polyline points="1614.4,1131.2 1615.0,1344.0"/>
<polyline points="1615.2,1404.0 1615.2,1657.0"/>
<polyline points="1615.2,1717.0 1615.2,1778.1"/>
<polyline points="1694.7,1131.2 1695.2,1344.0"/>
<polyline points="1695.3,1404.0 1695.3,1661.0"/>
<polyline points="1695.3,1721.0 1695.3,1778.1"/>
<polyline points="1703.5,1131.2 1703.3,1190.3"/>
<polyline points="1703.1,1250.3 1702.6,1400.0 1702.6,1505.4"/>
<polyline points="1702.6,1565.4 1702.6,1778.1"/>
<polyline points="1716.0,1131.2 1715.9,1190.3"/>
<polyline points="1715.8,1250.3 1715.5,1400.0 1715.5,1505.4"/>
<polyline points="1715.5,1565.4 1715.5,1778.1"/>
<polyline points="1733.0,1131.2 1732.7,1190.3"/>
<polyline points="1732.4,1250.3 1731.7,1400.0 1731.7,1505.4"/>
<polyline points="1731.7,1565.4 1731.7,1778.1"/>
<polyline points="1767.6,1131.2 1767.9,1344.0"/>
<polyline points="1768.1,1404.0 1770.0,1521.0 1772.0,1656.7 1772.0,1657.0"/>
<polyline points="1772.0,1717.0 1772.0,1778.1"/>
<polyline points="1791.0,1131.2 1793.6,1344.0"/>
<polyline points="1794.3,1404.0 1794.3,1657.0"/>
<polyline points="1794.3,1717.0 1794.3,1778.1"/>
<polyline points="1941.1,1131.2 1941.1,1190.3"/>
<polyline points="1941.1,1250.3 1941.1,1400.0 1940.3,1504.3 1940.2,1505.5"/>
<polyline points="1936.3,1565.3 1936.3,1565.8 1935.1,1778.1"/>
<polyline points="1967.8,1131.2 1967.8,1344.0"/>
<polyline points="1967.8,1404.0 1968.6,1521.3 1970.7,1656.7 1970.7,1657.0"/>
<polyline points="1970.7,1717.0 1970.7,1778.1"/>
<polyline points="2008.3,1131.2 2008.3,1344.0"/>
<polyline points="2008.3,1404.0 2009.9,1656.7 2009.9,1657.0"/>
<polyline points="2009.9,1717.0 2009.9,1778.1"/>
<polyline points="2029.3,1131.2 2029.3,1190.3"/>
<polyline points="2029.3,1250.3 2029.3,1400.0 2028.8,1505.4"/>
<polyline points="2028.5,1565.4 2028.5,1565.8 2028.5,1778.1"/>
<polyline points="1583.3,1778.1 1581.3,1735.6 1581.2,1729.0"/>
<polyline points="1580.4,1669.0 1582.0,1642.6 1586.1,1606.2 1596.2,1567.8 1604.3,1559.7 1605.5,1569.8 1605.5,1695.0 1605.5,1697.5"/>
<polyline points="1605.5,1757.5 1605.5,1778.1"/>
<polyline points="1654.8,1778.1 1656.0,1642.6 1656.0,1642.2"/>
<polyline points="1656.9,1582.2 1656.9,1582.0 1658.9,1501.0 1660.0,1400.0 1662.0,1341.0 1662.9,1354.1"/>
<polyline points="1669.7,1413.6 1671.0,1422.0 1675.0,1489.0 1681.0,1507.0 1681.0,1673.0"/>
<polyline points="1681.0,1733.0 1681.0,1778.1"/>
<polyline stroke-width="18.8" stroke-linecap="butt" points="515.5,1131.2 515.5,1218.0"/>
<polyline stroke-width="18.8" stroke-linecap="butt" points="515.5,1277.7 515.5,1310.0"/>
<polyline stroke-width="6.5" stroke-linecap="round" points="1662.0,1143.0 1662.3,1166.0"/>
<polyline stroke-width="6.5" stroke-linecap="round" points="1662.0,1216.0 1662.0,1222.0"/>
<polyline stroke-width="6.5" stroke-linecap="round" points="1662.0,1236.0 1662.0,1242.0"/>
</g>
<g font-family="'Liberation Sans', sans-serif" font-size="21" fill="#000" stroke="#000" stroke-width="0.35" text-anchor="middle">
<text transform="translate(260.8 1272.9) rotate(-90.0)" y="7.6">0.54</text>
<text transform="translate(285.0 1198.0) rotate(90.0)" y="7.6">0.54</text>
<text transform="translate(307.3 1198.0) rotate(90.0)" y="7.6">1.02</text>
<text transform="translate(327.2 1272.9) rotate(-90.0)" y="7.6">1.02</text>
<text transform="translate(433.6 1198.0) rotate(90.0)" y="7.6">1.02</text>
<text transform="translate(443.5 1198.0) rotate(90.0)" y="7.6">1.51</text>
<text transform="translate(455.8 1198.0) rotate(90.0)" y="7.6">1.99</text>
<text transform="translate(509.0 1248.4) rotate(-90.0)" y="7.6">1.99</text>
<text transform="translate(515.3 1248.4) rotate(-90.0)" y="7.6">1.51</text>
<text transform="translate(521.6 1248.4) rotate(-90.0)" y="7.6">1.02</text>
<text transform="translate(551.9 1192.0) rotate(90.0)" y="7.6">1.02</text>
<text transform="translate(579.0 1192.0) rotate(-90.0)" y="7.6">1.51</text>
<text transform="translate(620.8 1248.4) rotate(-90.0)" y="7.6">1.51</text>
<text transform="translate(639.6 1248.4) rotate(-90.0)" y="7.6">1.02</text>
<text transform="translate(761.7 1202.0) rotate(90.0)" y="7.6">1.02</text>
<text transform="translate(783.2 1202.0) rotate(90.0)" y="7.6">1.51</text>
<text transform="translate(820.3 1202.0) rotate(90.0)" y="7.6">1.99</text>
<text transform="translate(934.8 1374.0) rotate(90.0)" y="7.6">1.99</text>
<text transform="translate(938.8 1687.0) rotate(-90.0)" y="7.6">1.99</text>
<text transform="translate(969.9 1374.0) rotate(90.0)" y="7.6">1.51</text>
<text transform="translate(974.0 1687.0) rotate(-90.0)" y="7.6">1.51</text>
<text transform="translate(992.2 1374.0) rotate(90.0)" y="7.6">1.02</text>
<text transform="translate(994.2 1687.0) rotate(-90.0)" y="7.6">1.02</text>
<text transform="translate(1010.3 1374.0) rotate(90.0)" y="7.6">0.54</text>
<text transform="translate(1010.4 1687.0) rotate(-90.0)" y="7.6">0.54</text>
<text transform="translate(1054.8 1220.3) rotate(-90.0)" y="7.6">0.54</text>
<text transform="translate(1054.8 1535.4) rotate(-90.0)" y="7.6">0.54</text>
<text transform="translate(1101.2 1374.0) rotate(90.0)" y="7.6">0.54</text>
<text transform="translate(1101.3 1687.0) rotate(-90.0)" y="7.6">0.54</text>
<text transform="translate(1146.6 1220.3) rotate(-90.0)" y="7.6">0.54</text>
<text transform="translate(1146.6 1535.4) rotate(-90.0)" y="7.6">0.54</text>
<text transform="translate(1161.7 1220.3) rotate(90.0)" y="7.6">1.02</text>
<text transform="translate(1161.2 1535.4) rotate(-90.0)" y="7.6">1.02</text>
<text transform="translate(1183.8 1220.3) rotate(-90.0)" y="7.6">1.51</text>
<text transform="translate(1183.0 1535.4) rotate(-90.0)" y="7.6">1.51</text>
<text transform="translate(1285.6 1374.0) rotate(90.0)" y="7.6">1.51</text>
<text transform="translate(1288.8 1687.0) rotate(-90.0)" y="7.6">1.51</text>
<text transform="translate(1315.1 1374.0) rotate(90.0)" y="7.6">1.02</text>
<text transform="translate(1316.0 1687.0) rotate(-90.0)" y="7.6">1.02</text>
<text transform="translate(1375.8 1374.0) rotate(90.0)" y="7.6">0.54</text>
<text transform="translate(1382.5 1687.0) rotate(-90.0)" y="7.6">0.54</text>
<text transform="translate(1488.8 1220.3) rotate(90.0)" y="7.6">0.54</text>
<text transform="translate(1488.3 1535.4) rotate(-90.0)" y="7.6">0.54</text>
<text transform="translate(1549.3 1220.3) rotate(90.0)" y="7.6">1.02</text>
<text transform="translate(1548.4 1535.4) rotate(-90.0)" y="7.6">1.02</text>
<text transform="translate(1615.1 1374.0) rotate(90.0)" y="7.6">1.02</text>
<text transform="translate(1615.2 1687.0) rotate(-90.0)" y="7.6">1.02</text>
<text transform="translate(1695.2 1374.0) rotate(90.0)" y="7.6">0.54</text>
<text transform="translate(1695.3 1691.0) rotate(-90.0)" y="7.6">0.54</text>
<text transform="translate(1703.2 1220.3) rotate(90.0)" y="7.6">0.54</text>
<text transform="translate(1702.6 1535.4) rotate(-90.0)" y="7.6">0.54</text>
<text transform="translate(1715.8 1220.3) rotate(90.0)" y="7.6">1.02</text>
<text transform="translate(1715.5 1535.4) rotate(-90.0)" y="7.6">1.02</text>
<text transform="translate(1732.6 1220.3) rotate(90.0)" y="7.6">1.51</text>
<text transform="translate(1731.7 1535.4) rotate(-90.0)" y="7.6">1.51</text>
<text transform="translate(1768.0 1374.0) rotate(90.0)" y="7.6">1.51</text>
<text transform="translate(1772.0 1687.0) rotate(-90.0)" y="7.6">1.51</text>
<text transform="translate(1794.0 1374.0) rotate(90.0)" y="7.6">1.02</text>
<text transform="translate(1794.3 1687.0) rotate(-90.0)" y="7.6">1.02</text>
<text transform="translate(1941.1 1220.3) rotate(-90.0)" y="7.6">1.02</text>
<text transform="translate(1938.3 1535.4) rotate(-90.0)" y="7.6">1.02</text>
<text transform="translate(1967.8 1374.0) rotate(90.0)" y="7.6">1.02</text>
<text transform="translate(1970.7 1687.0) rotate(-90.0)" y="7.6">1.02</text>
<text transform="translate(2008.3 1374.0) rotate(90.0)" y="7.6">0.54</text>
<text transform="translate(2009.9 1687.0) rotate(-90.0)" y="7.6">0.54</text>
<text transform="translate(2029.3 1220.3) rotate(90.0)" y="7.6">0.54</text>
<text transform="translate(2028.6 1535.4) rotate(-90.0)" y="7.6">0.54</text>
<text transform="translate(1580.9 1699.0) rotate(84.0)" y="7.6">1.51</text>
<text transform="translate(1605.5 1727.5) rotate(-90.0)" y="7.6">1.51</text>
<text transform="translate(1658.0 1612.2) rotate(-89.0)" y="7.6">1.02</text>
<text transform="translate(1665.0 1384.0) rotate(82.0)" y="7.6">1.02</text>
<text transform="translate(1681.0 1703.0) rotate(-90.0)" y="7.6">1.02</text>
<text transform="translate(1660.5 1186.7) rotate(90.0)" y="7.6">1.02</text>
</g>
<g stroke="#262626" stroke-width="1" fill="none">
<rect x="220.4" y="1131.2" width="1954.1" height="646.8999999999999"/>
<line x1="513.9" y1="1778.1" x2="513.9" y2="1759.1"/>
<line x1="513.9" y1="1131.2" x2="513.9" y2="1150.2"/>
<line x1="893.4" y1="1778.1" x2="893.4" y2="1759.1"/>
<line x1="893.4" y1="1131.2" x2="893.4" y2="1150.2"/>
<line x1="1273.0" y1="1778.1" x2="1273.0" y2="1759.1"/>
<line x1="1273.0" y1="1131.2" x2="1273.0" y2="1150.2"/>
<line x1="1652.6" y1="1778.1" x2="1652.6" y2="1759.1"/>
<line x1="1652.6" y1="1131.2" x2="1652.6" y2="1150.2"/>
<line x1="2032.1" y1="1778.1" x2="2032.1" y2="1759.1"/>
<line x1="2032.1" y1="1131.2" x2="2032.1" y2="1150.2"/>
<line x1="220.4" y1="1262.1" x2="239.4" y2="1262.1"/>
<line x1="2174.5" y1="1262.1" x2="2155.5" y2="1262.1"/>
<line x1="220.4" y1="1396.2" x2="239.4" y2="1396.2"/>
<line x1="2174.5" y1="1396.2" x2="2155.5" y2="1396.2"/>
<line x1="220.4" y1="1530.3" x2="239.4" y2="1530.3"/>
<line x1="2174.5" y1="1530.3" x2="2155.5" y2="1530.3"/>
<line x1="220.4" y1="1664.5" x2="239.4" y2="1664.5"/>
<line x1="2174.5" y1="1664.5" x2="2155.5" y2="1664.5"/>
</g>
<g font-family="'Liberation Sans', sans-serif" font-size="57.5" fill="#262626" stroke="#262626" stroke-width="0.5">
<text x="513.9" y="1846.9" text-anchor="middle">-10</text>
<text x="893.4" y="1846.9" text-anchor="middle">-5</text>
<text x="1273.0" y="1846.9" text-anchor="middle">0</text>
<text x="1652.6" y="1846.9" text-anchor="middle">5</text>
<text x="2032.1" y="1846.9" text-anchor="middle">10</text>
<text x="205.4" y="1282.8" text-anchor="end">200</text>
<text x="205.4" y="1416.9" text-anchor="end">400</text>
<text x="205.4" y="1551.0" text-anchor="end">600</text>
<text x="205.4" y="1685.2" text-anchor="end">800</text>
</g>
<text font-family="'Liberation Sans', sans-serif" font-size="63.6" fill="#262626" stroke="#262626" stroke-width="0.6" text-anchor="middle" x="1197.5" y="1923.2">Longitude [°]</text>
<text font-family="'Liberation Sans', sans-serif" font-size="63.6" fill="#262626" stroke="#262626" stroke-width="0.6" text-anchor="middle" transform="translate(70.3 1454.7) rotate(-90)">Depth [m]</text>
<text font-family="'Liberation Serif', serif" font-size="84" fill="#000" text-anchor="start" x="1226.5" y="1086.7">(<tspan font-weight="bold">b</tspan>)</text>
<g font-family="'Liberation Sans', sans-serif" font-size="59.7" fill="#000">
<text x="235.4" y="1600.1" textLength="289.7" lengthAdjust="spacingAndGlyphs">Fram Strait</text>
<text x="235.4" y="1678.3" textLength="257.9" lengthAdjust="spacingAndGlyphs">29th Aug.</text>
</g>
<text font-family="'Liberation Serif', serif" font-size="70" fill="#000" x="238.4" y="1761.9">ν</text>
<text font-family="'Liberation Sans', sans-serif" font-style="italic" font-size="35" fill="#000" x="273.4" y="1761.9" textLength="184" lengthAdjust="spacingAndGlyphs">geostrophic</text>
<path d="M240.9 1714.3 h16.0 v-3 l21 5.6 l-21 5.6 v-3 h-16.0 z" fill="#111"/>
<rect x="2191.6" y="1131.2" width="35.4" height="646.8999999999999" fill="url(#blues)"/>
<g stroke="#262626" stroke-width="1.2" fill="none">
<rect x="2191.6" y="1131.2" width="35.4" height="646.8999999999999"/>
<line x1="2221.0" y1="1616.4" x2="2227.0" y2="1616.4"/>
<line x1="2221.0" y1="1454.7" x2="2227.0" y2="1454.7"/>
<line x1="2221.0" y1="1292.9" x2="2227.0" y2="1292.9"/>
</g>
<g font-family="'Liberation Sans', sans-serif" font-size="53.5" fill="#262626" stroke="#262626" stroke-width="0.5">
<text x="2241.4" y="1798.1">0</text>
<text x="2241.4" y="1636.4">0.5</text>
<text x="2241.4" y="1474.7">1</text>
<text x="2241.4" y="1312.9">1.5</text>
<text x="2241.4" y="1151.2">2</text>
</g>
<text font-family="'Liberation Sans', sans-serif" font-size="52" fill="#000" text-anchor="middle" transform="translate(2360.5 1471.9) rotate(-90)" textLength="385.8" lengthAdjust="spacingAndGlyphs">non-dim. currents</text>
</g>
<g id="panel-c">
<clipPath id="clip-c"><rect x="223.2" y="2148.4" width="1991.3" height="659.5"/></clipPath>
<g clip-path="url(#clip-c)">
<rect x="223.2" y="2148.4" width="1991.3" height="659.5" fill="#2676b8"/>
<polygon fill="#084184" stroke="#084184" stroke-width="0.6" points="218.2,2143.4 553.9,2143.4 553.9,2147.1 521.6,2159.3 501.3,2168.6 477.1,2183.5 477.1,2223.5 218.2,2223.5"/>
<polygon fill="#64a9d3" stroke="#64a9d3" stroke-width="0.6" points="600.0,2187.0 640.4,2169.4 668.7,2159.3 693.0,2147.5 693.0,2143.4 784.0,2143.4 784.0,2147.5 761.7,2159.3 741.5,2169.4 709.2,2191.6 709.2,2231.6 600.0,2227.0"/>
<polygon fill="#b0d2e7" stroke="#b0d2e7" stroke-width="0.6" points="709.2,2191.6 741.5,2169.4 761.7,2159.3 784.0,2147.5 784.0,2143.4 874.9,2143.4 874.9,2147.5 850.7,2158.1 830.5,2169.4 802.2,2193.6 802.2,2233.6 709.2,2231.6"/>
<polygon fill="#e1edf8" stroke="#e1edf8" stroke-width="0.6" points="802.2,2193.6 830.5,2169.4 850.7,2158.1 874.9,2147.5 874.9,2143.4 907.3,2143.4 907.3,2147.5 931.5,2157.3 955.8,2162.5 974.0,2170.2 990.2,2183.5 1010.4,2197.7 1016.4,2217.9 1018.5,2230.0 1012.4,2258.3 1000.3,2290.7 988.1,2310.9 980.1,2323.0 935.6,2371.5 887.1,2418.0 857.1,2418.0 857.1,2233.6 802.2,2233.6"/>
<polygon fill="#b0d2e7" stroke="#b0d2e7" stroke-width="0.6" points="907.3,2147.5 931.5,2157.3 955.8,2162.5 974.0,2170.2 990.2,2183.5 1010.4,2197.7 1016.4,2217.9 1018.5,2230.0 1012.4,2258.3 1000.3,2290.7 988.1,2310.9 980.1,2323.0 935.6,2371.5 887.1,2418.0 857.1,2418.0 857.1,2597.7 887.1,2597.7 919.4,2569.4 955.8,2531.0 972.0,2514.8 1028.6,2454.2 1040.7,2439.9 1077.1,2395.8 1109.4,2347.3 1115.5,2321.0 1125.6,2268.4 1130.5,2230.0 1125.6,2197.7 1109.4,2169.4 1085.2,2157.3 1062.9,2147.5 1062.9,2143.4 907.3,2143.4"/>
<polygon fill="#64a9d3" stroke="#64a9d3" stroke-width="0.6" points="1062.9,2147.5 1085.2,2157.3 1109.4,2169.4 1125.6,2197.7 1130.5,2230.0 1125.6,2268.4 1115.5,2321.0 1109.4,2347.3 1077.1,2395.8 1040.7,2439.9 1028.6,2454.2 972.0,2514.8 955.8,2531.0 919.4,2569.4 887.1,2597.7 857.1,2597.7 857.1,2837.9 998.2,2837.9 998.2,2807.9 1038.7,2750.5 1073.0,2698.8 1110.2,2648.2 1133.7,2573.4 1149.9,2516.8 1164.0,2460.2 1174.1,2397.8 1186.3,2323.0 1194.3,2282.6 1202.0,2234.1 1206.1,2197.7 1202.0,2165.3 1194.3,2155.2 1184.2,2147.5 1184.2,2143.4 1062.9,2143.4"/>
<polygon fill="#084184" stroke="#084184" stroke-width="0.6" points="1286.9,2147.5 1291.0,2165.3 1286.9,2193.6 1272.8,2242.2 1262.7,2282.6 1258.6,2314.9 1256.6,2333.1 1258.6,2397.8 1262.7,2439.9 1272.8,2516.8 1284.9,2593.6 1301.1,2650.2 1321.3,2711.7 1329.4,2735.1 1550.9,2791.8 1588.1,2737.2 1622.5,2692.7 1638.7,2642.2 1650.8,2593.6 1636.7,2514.8 1624.5,2499.8 1588.1,2448.1 1578.0,2439.9 1523.5,2399.8 1487.1,2355.4 1458.8,2310.9 1428.4,2254.3 1396.1,2199.7 1392.0,2177.5 1386.8,2163.3 1393.3,2147.5"/>
<polygon fill="#64a9d3" stroke="#64a9d3" stroke-width="0.6" points="1551.8,2148.4 1523.5,2161.3 1519.4,2177.5 1516.2,2197.7 1523.5,2217.9 1535.6,2242.2 1550.9,2265.6 1624.5,2257.5 1656.9,2246.2 1665.8,2230.0 1656.9,2209.8 1646.8,2195.7 1628.6,2189.6 1576.0,2157.3 1551.8,2148.4"/>
<polygon fill="#64a9d3" stroke="#64a9d3" stroke-width="0.6" points="2216.0,2154.0 2180.9,2161.3 2158.7,2170.2 2098.0,2197.7 2073.8,2211.8 2041.4,2229.2 1992.9,2259.5 1899.9,2271.7 1863.5,2280.6 1815.0,2309.0 1800.0,2328.0 1815.0,2349.3 1851.4,2397.8 1871.6,2440.0 1910.0,2514.8 1916.1,2535.0 1934.3,2595.7 1950.4,2690.7 1964.6,2809.0 2219.5,2812.9 2219.5,2148.4"/>
<polygon fill="#fff" points="218.2,2182.3 444.7,2182.3 600.0,2187.6 887.1,2197.7 887.1,2812.9 218.2,2812.9"/>
<g stroke="#262626" stroke-opacity="0.14" stroke-width="1.2">
<line x1="378.6" y1="2148.4" x2="378.6" y2="2807.9"/>
<line x1="555.5" y1="2148.4" x2="555.5" y2="2807.9"/>
<line x1="732.3" y1="2148.4" x2="732.3" y2="2807.9"/>
<line x1="909.1" y1="2148.4" x2="909.1" y2="2807.9"/>
<line x1="1086.0" y1="2148.4" x2="1086.0" y2="2807.9"/>
<line x1="1262.8" y1="2148.4" x2="1262.8" y2="2807.9"/>
<line x1="1439.7" y1="2148.4" x2="1439.7" y2="2807.9"/>
<line x1="1616.6" y1="2148.4" x2="1616.6" y2="2807.9"/>
<line x1="1793.4" y1="2148.4" x2="1793.4" y2="2807.9"/>
<line x1="1970.2" y1="2148.4" x2="1970.2" y2="2807.9"/>
<line x1="2147.1" y1="2148.4" x2="2147.1" y2="2807.9"/>
<line x1="223.2" y1="2281.8" x2="2214.5" y2="2281.8"/>
<line x1="223.2" y1="2418.7" x2="2214.5" y2="2418.7"/>
<line x1="223.2" y1="2555.5" x2="2214.5" y2="2555.5"/>
<line x1="223.2" y1="2692.4" x2="2214.5" y2="2692.4"/>
</g>
</g>
<g fill="none" stroke="#000" stroke-width="6.4" stroke-linejoin="round" stroke-linecap="butt">
<polyline points="477.1,2183.5 501.3,2168.6 521.6,2159.3 553.9,2147.1"/>
<polyline points="600.0,2187.0 640.4,2169.4 668.7,2159.3 693.0,2147.5"/>
<polyline points="709.2,2191.6 741.5,2169.4 761.7,2159.3 784.0,2147.5"/>
<polyline points="802.2,2193.6 830.5,2169.4 850.7,2158.1 874.9,2147.5"/>
<polyline points="907.3,2147.5 931.5,2157.3 955.8,2162.5 974.0,2170.2 990.2,2183.5 1010.4,2197.7 1016.4,2217.9 1018.5,2230.0 1012.4,2258.3 1000.3,2290.7 988.1,2310.9 980.1,2323.0 978.9,2324.3"/>
<polyline points="937.0,2370.0 935.6,2371.5 887.1,2418.0"/>
<polyline points="1062.9,2147.5 1085.2,2157.3 1109.4,2169.4 1125.6,2197.7 1130.5,2230.0 1125.6,2268.4 1124.8,2272.7"/>
<polyline points="1116.1,2317.9 1115.5,2321.0 1109.4,2347.3 1077.1,2395.8 1040.7,2439.9 1028.6,2454.2 972.0,2514.8 955.8,2531.0 953.3,2533.6"/>
<polyline points="921.7,2567.0 919.4,2569.4 887.1,2597.7"/>
<polyline points="1184.2,2147.5 1194.3,2155.2 1202.0,2165.3 1206.1,2197.7 1202.0,2234.1 1194.3,2282.6 1186.3,2323.0 1174.7,2394.4"/>
<polyline points="1165.1,2453.7 1164.0,2460.2 1149.9,2516.8 1133.7,2573.4 1110.2,2648.2 1073.0,2698.8 1072.6,2699.5"/>
<polyline points="1039.4,2749.4 1038.7,2750.5 998.2,2807.9"/>
<polyline points="1286.9,2147.5 1291.0,2165.3 1286.9,2193.6 1272.8,2242.2 1262.7,2282.6 1258.6,2314.9 1256.6,2333.1 1256.7,2335.5"/>
<polyline points="1258.6,2395.4 1258.6,2397.8 1262.7,2439.9 1272.8,2516.8 1284.9,2593.6 1301.1,2650.2 1301.8,2652.4"/>
<polyline points="1320.5,2709.4 1321.3,2711.7 1329.4,2735.1 1550.9,2791.8 1552.9,2788.8"/>
<polyline points="1586.7,2739.2 1588.1,2737.2 1622.5,2692.7 1638.7,2642.2 1650.8,2593.6 1636.7,2514.8 1624.8,2500.1"/>
<polyline points="1590.2,2451.0 1588.1,2448.1 1578.0,2439.9 1523.5,2399.8 1487.1,2355.4 1458.8,2310.9 1428.4,2254.3 1427.5,2252.7"/>
<polyline points="1396.9,2201.0 1396.1,2199.7 1392.0,2177.5 1386.8,2163.3 1393.3,2147.5"/>
<polyline points="1551.8,2148.4 1523.5,2161.3 1519.4,2177.5 1516.2,2197.7 1523.5,2217.9 1535.6,2242.2 1550.9,2265.6 1624.5,2257.5 1656.9,2246.2 1665.8,2230.0 1656.9,2209.8 1646.8,2195.7 1628.6,2189.6 1626.9,2188.6"/>
<polyline points="1575.8,2157.2 1551.8,2148.4"/>
<polyline points="2216.0,2154.0 2180.9,2161.3 2158.7,2170.2 2156.5,2171.2"/>
<polyline points="2101.8,2196.0 2098.0,2197.7 2073.8,2211.8 2041.4,2229.2 1992.9,2259.5 1899.9,2271.7 1863.5,2280.6 1861.8,2281.6"/>
<polyline points="1811.4,2313.5 1800.0,2328.0 1815.0,2349.3 1851.4,2397.8 1871.6,2440.0 1910.0,2514.8 1916.1,2535.0 1916.4,2536.1"/>
<polyline points="1933.7,2593.6 1934.3,2595.7 1950.4,2690.7 1964.6,2809.0"/>
<polyline stroke-width="6.5" stroke-linecap="round" points="1329.4,2305.2 1329.4,2314.9"/>
<polyline stroke-width="5" stroke-linecap="butt" points="1990.9,2146.0 1990.9,2151.0"/>
</g>
<g font-family="'Liberation Sans', sans-serif" font-size="21" fill="#000" stroke="#000" stroke-width="0.35" text-anchor="middle">
<text transform="translate(959.0 2348.1) rotate(-47.5)" y="7.6">5.34</text>
<text transform="translate(1121.6 2295.5) rotate(-79.1)" y="7.6">4.1</text>
<text transform="translate(938.4 2551.2) rotate(-46.5)" y="7.6">4.1</text>
<text transform="translate(1170.1 2424.1) rotate(-80.8)" y="7.6">2.86</text>
<text transform="translate(1056.9 2725.0) rotate(-56.4)" y="7.6">2.86</text>
<text transform="translate(1256.6 2365.5) rotate(88.2)" y="7.6">1.63</text>
<text transform="translate(1308.4 2681.8) rotate(71.8)" y="7.6">1.63</text>
<text transform="translate(1572.0 2765.5) rotate(-55.7)" y="7.6">1.63</text>
<text transform="translate(1606.3 2476.4) rotate(54.9)" y="7.6">1.63</text>
<text transform="translate(1410.2 2228.0) rotate(59.3)" y="7.6">1.63</text>
<text transform="translate(1602.3 2171.4) rotate(31.6)" y="7.6">2.86</text>
<text transform="translate(2130.4 2186.4) rotate(-24.4)" y="7.6">2.86</text>
<text transform="translate(1835.2 2295.5) rotate(-32.4)" y="7.6">2.86</text>
<text transform="translate(1923.4 2565.3) rotate(73.3)" y="7.6">2.86</text>
</g>
<g stroke="#262626" stroke-width="1" fill="none">
<rect x="223.2" y="2148.4" width="1991.3" height="659.5"/>
<line x1="378.6" y1="2807.9" x2="378.6" y2="2788.9"/>
<line x1="378.6" y1="2148.4" x2="378.6" y2="2167.4"/>
<line x1="555.5" y1="2807.9" x2="555.5" y2="2788.9"/>
<line x1="555.5" y1="2148.4" x2="555.5" y2="2167.4"/>
<line x1="732.3" y1="2807.9" x2="732.3" y2="2788.9"/>
<line x1="732.3" y1="2148.4" x2="732.3" y2="2167.4"/>
<line x1="909.1" y1="2807.9" x2="909.1" y2="2788.9"/>
<line x1="909.1" y1="2148.4" x2="909.1" y2="2167.4"/>
<line x1="1086.0" y1="2807.9" x2="1086.0" y2="2788.9"/>
<line x1="1086.0" y1="2148.4" x2="1086.0" y2="2167.4"/>
<line x1="1262.8" y1="2807.9" x2="1262.8" y2="2788.9"/>
<line x1="1262.8" y1="2148.4" x2="1262.8" y2="2167.4"/>
<line x1="1439.7" y1="2807.9" x2="1439.7" y2="2788.9"/>
<line x1="1439.7" y1="2148.4" x2="1439.7" y2="2167.4"/>
<line x1="1616.6" y1="2807.9" x2="1616.6" y2="2788.9"/>
<line x1="1616.6" y1="2148.4" x2="1616.6" y2="2167.4"/>
<line x1="1793.4" y1="2807.9" x2="1793.4" y2="2788.9"/>
<line x1="1793.4" y1="2148.4" x2="1793.4" y2="2167.4"/>
<line x1="1970.2" y1="2807.9" x2="1970.2" y2="2788.9"/>
<line x1="1970.2" y1="2148.4" x2="1970.2" y2="2167.4"/>
<line x1="2147.1" y1="2807.9" x2="2147.1" y2="2788.9"/>
<line x1="2147.1" y1="2148.4" x2="2147.1" y2="2167.4"/>
<line x1="223.2" y1="2281.8" x2="242.2" y2="2281.8"/>
<line x1="2214.5" y1="2281.8" x2="2195.5" y2="2281.8"/>
<line x1="223.2" y1="2418.7" x2="242.2" y2="2418.7"/>
<line x1="2214.5" y1="2418.7" x2="2195.5" y2="2418.7"/>
<line x1="223.2" y1="2555.5" x2="242.2" y2="2555.5"/>
<line x1="2214.5" y1="2555.5" x2="2195.5" y2="2555.5"/>
<line x1="223.2" y1="2692.4" x2="242.2" y2="2692.4"/>
<line x1="2214.5" y1="2692.4" x2="2195.5" y2="2692.4"/>
</g>
<g font-family="'Liberation Sans', sans-serif" font-size="57.5" fill="#262626" stroke="#262626" stroke-width="0.5">
<text x="378.6" y="2876.7" text-anchor="middle">72.8</text>
<text x="555.5" y="2876.7" text-anchor="middle">73</text>
<text x="732.3" y="2876.7" text-anchor="middle">73.2</text>
<text x="909.1" y="2876.7" text-anchor="middle">73.4</text>
<text x="1086.0" y="2876.7" text-anchor="middle">73.6</text>
<text x="1262.8" y="2876.7" text-anchor="middle">73.8</text>
<text x="1439.7" y="2876.7" text-anchor="middle">74</text>
<text x="1616.6" y="2876.7" text-anchor="middle">74.2</text>
<text x="1793.4" y="2876.7" text-anchor="middle">74.4</text>
<text x="1970.2" y="2876.7" text-anchor="middle">74.6</text>
<text x="2147.1" y="2876.7" text-anchor="middle">74.8</text>
<text x="208.2" y="2302.5" text-anchor="end">200</text>
<text x="208.2" y="2439.3" text-anchor="end">400</text>
<text x="208.2" y="2576.2" text-anchor="end">600</text>
<text x="208.2" y="2713.1" text-anchor="end">800</text>
</g>
<text font-family="'Liberation Sans', sans-serif" font-size="63.6" fill="#262626" stroke="#262626" stroke-width="0.6" text-anchor="middle" x="1218.8" y="2955.9">Latitude [°]</text>
<text font-family="'Liberation Sans', sans-serif" font-size="63.6" fill="#262626" stroke="#262626" stroke-width="0.6" text-anchor="middle" transform="translate(70.3 2478.2) rotate(-90)">Depth [m]</text>
<text font-family="'Liberation Serif', serif" font-size="84" fill="#000" text-anchor="start" x="1226.5" y="2103.4">(<tspan font-weight="bold">c</tspan>)</text>
<g font-family="'Liberation Sans', sans-serif" font-size="59.7" fill="#000">
<text x="240.2" y="2628.0" textLength="380" lengthAdjust="spacingAndGlyphs">Beaufort Gyre</text>
<text x="240.2" y="2708.9" textLength="250" lengthAdjust="spacingAndGlyphs">19th Sep.</text>
</g>
<text font-family="'Liberation Serif', serif" font-size="70" fill="#000" x="243.2" y="2791.7">ν</text>
<text font-family="'Liberation Sans', sans-serif" font-style="italic" font-size="35" fill="#000" x="278.2" y="2791.7" textLength="42" lengthAdjust="spacingAndGlyphs">sla</text>
<path d="M245.7 2744.1 h16.0 v-3 l21 5.6 l-21 5.6 v-3 h-16.0 z" fill="#111"/>
<rect x="2232.6" y="2148.4" width="36.0" height="659.5" fill="url(#blues)"/>
<g stroke="#262626" stroke-width="1.2" fill="none">
<rect x="2232.6" y="2148.4" width="36.0" height="659.5"/>
<line x1="2262.6" y1="2588.1" x2="2268.6" y2="2588.1"/>
<line x1="2262.6" y1="2368.2" x2="2268.6" y2="2368.2"/>
</g>
<g font-family="'Liberation Sans', sans-serif" font-size="53.5" fill="#262626" stroke="#262626" stroke-width="0.5">
<text x="2283.0" y="2827.9">0</text>
<text x="2283.0" y="2608.1">2</text>
<text x="2283.0" y="2388.2">4</text>
<text x="2283.0" y="2168.4">6</text>
</g>
<text font-family="'Liberation Sans', sans-serif" font-size="52.9" fill="#000" text-anchor="middle" transform="translate(2360.5 2497.8) rotate(-90)" textLength="390" lengthAdjust="spacingAndGlyphs">non-dim. currents</text>
</g>
<g id="panel-d">
<clipPath id="clip-d"><rect x="226.8" y="3181.2" width="1985.6000000000001" height="657.9000000000001"/></clipPath>
<g clip-path="url(#clip-d)">
<rect x="226.8" y="3181.2" width="1985.6000000000001" height="657.9000000000001" fill="#4493c7"/>
<polygon fill="#0e59a2" stroke="#0e59a2" stroke-width="0.6" points="221.8,3176.2 600.0,3176.2 600.0,3181.2 582.2,3199.4 576.1,3218.8 576.1,3258.8 221.8,3258.8"/>
<polygon fill="#95c5df" stroke="#95c5df" stroke-width="0.6" points="692.2,3223.6 697.0,3203.4 705.9,3190.5 714.0,3180.4 714.0,3176.2 796.9,3176.2 796.9,3180.4 788.0,3190.5 773.9,3203.4 765.8,3225.7 765.8,3265.7 692.2,3263.6"/>
<polygon fill="#d5e5f4" stroke="#d5e5f4" stroke-width="0.6" points="765.8,3225.7 773.9,3203.4 788.0,3190.5 796.9,3180.4 796.9,3176.2 881.0,3176.2 881.0,3180.4 872.9,3189.3 856.7,3201.4 851.5,3217.6 839.4,3228.5 839.4,3268.5 765.8,3265.7"/>
<polygon fill="#f7fbff" stroke="#f7fbff" stroke-width="0.6" points="839.4,3228.5 851.5,3217.6 856.7,3201.4 872.9,3189.3 881.0,3180.4 881.0,3176.2 903.2,3176.2 903.2,3180.4 911.3,3187.3 937.6,3195.3 978.0,3239.8 984.1,3260.0 987.3,3288.3 988.9,3332.8 990.2,3393.5 992.2,3469.9 993.0,3496.3 994.2,3558.9 998.2,3631.7 1004.3,3723.9 903.2,3838.7 903.2,3869.1 859.1,3869.1 859.1,3268.5 839.4,3268.5"/>
<polygon fill="#d5e5f4" stroke="#d5e5f4" stroke-width="0.6" points="903.2,3180.4 911.3,3187.3 937.6,3195.3 978.0,3239.8 984.1,3260.0 987.3,3288.3 988.9,3332.8 990.2,3393.5 992.2,3469.9 993.0,3496.3 994.2,3558.9 998.2,3631.7 1004.3,3723.9 903.2,3838.7 903.2,3869.1 1062.9,3869.1 1062.9,3838.7 1095.3,3779.3 1118.3,3722.7 1115.5,3631.7 1113.5,3550.9 1112.7,3470.0 1110.2,3401.5 1110.2,3332.8 1109.4,3288.3 1107.4,3260.0 1101.3,3229.7 1085.2,3213.5 1079.1,3200.2 1052.8,3188.1 1044.7,3180.4 1044.7,3176.2 903.2,3176.2"/>
<polygon fill="#95c5df" stroke="#95c5df" stroke-width="0.6" points="1044.7,3180.4 1052.8,3188.1 1079.1,3200.2 1085.2,3213.5 1101.3,3229.7 1107.4,3260.0 1109.4,3288.3 1110.2,3332.8 1110.2,3401.5 1112.7,3470.0 1113.5,3550.9 1115.5,3631.7 1118.3,3722.7 1095.3,3779.3 1062.9,3838.7 1062.9,3869.1 1168.1,3869.1 1168.1,3838.7 1188.3,3779.3 1207.3,3718.7 1204.9,3591.3 1203.2,3470.0 1202.4,3397.5 1201.2,3312.6 1198.4,3272.2 1194.3,3231.7 1186.3,3203.4 1174.1,3189.3 1165.2,3180.4 1165.2,3176.2 1044.7,3176.2"/>
<polygon fill="#0e59a2" stroke="#0e59a2" stroke-width="0.6" points="1265.5,3180.4 1272.8,3191.3 1278.8,3211.5 1285.7,3229.7 1288.9,3260.0 1291.0,3312.6 1292.2,3401.5 1292.2,3470.0 1293.8,3591.3 1295.8,3722.7 1274.0,3781.3 1252.6,3838.7 1252.6,3869.1 1456.7,3869.1 1456.7,3838.7 1379.9,3722.7 1381.9,3617.6 1384.0,3554.9 1385.2,3469.9 1386.0,3353.0 1388.0,3298.4 1394.1,3231.7 1404.2,3215.6 1410.2,3199.4 1420.4,3191.3 1426.4,3180.4 1426.4,3176.2 1265.5,3176.2"/>
<polygon fill="#95c5df" stroke="#95c5df" stroke-width="0.6" points="1550.9,3196.1 1543.7,3203.4 1535.6,3221.6 1524.7,3231.7 1522.6,3243.9 1517.4,3308.5 1515.4,3393.5 1513.3,3469.9 1512.5,3565.0 1509.3,3627.7 1505.3,3723.9 1550.9,3784.6 1610.4,3726.7 1609.2,3664.1 1602.3,3550.9 1601.1,3470.0 1599.5,3405.6 1598.2,3344.9 1594.2,3280.2 1584.1,3231.7 1565.9,3219.6 1557.8,3203.4 1550.9,3196.1"/>
<polygon fill="#0e59a2" stroke="#0e59a2" stroke-width="0.6" points="1723.6,3180.4 1733.7,3191.3 1747.8,3201.4 1769.3,3264.1 1770.9,3332.8 1780.2,3393.5 1777.4,3431.9 1788.3,3469.9 1790.3,3518.5 1796.4,3583.2 1815.0,3623.6 1831.2,3724.7 1800.0,3732.8 1772.1,3740.9 1703.4,3838.7 1703.4,3869.1 2033.3,3869.1 2033.3,3838.7 2015.1,3723.9 2017.2,3613.5 2020.4,3550.9 2021.2,3469.9 2022.0,3353.0 2023.2,3292.4 2027.3,3230.9 2035.4,3219.6 2041.4,3201.4 2055.6,3189.3 2061.6,3180.4 2061.6,3176.2 1723.6,3176.2"/>
<polygon fill="#95c5df" stroke="#95c5df" stroke-width="0.6" points="2214.0,3225.0 2203.1,3231.7 2195.1,3260.0 2191.0,3322.7 2189.0,3393.5 2187.8,3469.9 2186.2,3550.9 2183.7,3579.2 2180.1,3641.8 2176.9,3723.9 2214.1,3769.2 2217.4,3769.2 2217.4,3225.0"/>
<polygon fill="#fff" points="221.8,3214.7 444.7,3214.7 574.1,3218.8 600.0,3219.6 889.1,3229.7 889.1,3844.1 221.8,3844.1"/>
<g stroke="#262626" stroke-opacity="0.14" stroke-width="1.2">
<line x1="382.0" y1="3181.2" x2="382.0" y2="3839.1"/>
<line x1="558.5" y1="3181.2" x2="558.5" y2="3839.1"/>
<line x1="734.9" y1="3181.2" x2="734.9" y2="3839.1"/>
<line x1="911.3" y1="3181.2" x2="911.3" y2="3839.1"/>
<line x1="1087.8" y1="3181.2" x2="1087.8" y2="3839.1"/>
<line x1="1264.2" y1="3181.2" x2="1264.2" y2="3839.1"/>
<line x1="1440.7" y1="3181.2" x2="1440.7" y2="3839.1"/>
<line x1="1617.1" y1="3181.2" x2="1617.1" y2="3839.1"/>
<line x1="1793.6" y1="3181.2" x2="1793.6" y2="3839.1"/>
<line x1="1970.0" y1="3181.2" x2="1970.0" y2="3839.1"/>
<line x1="2146.5" y1="3181.2" x2="2146.5" y2="3839.1"/>
<line x1="226.8" y1="3314.2" x2="2212.4" y2="3314.2"/>
<line x1="226.8" y1="3450.9" x2="2212.4" y2="3450.9"/>
<line x1="226.8" y1="3587.6" x2="2212.4" y2="3587.6"/>
<line x1="226.8" y1="3724.3" x2="2212.4" y2="3724.3"/>
</g>
</g>
<g fill="none" stroke="#000" stroke-width="6.4" stroke-linejoin="round" stroke-linecap="butt">
<polyline points="576.1,3218.8 582.2,3199.4 600.0,3181.2"/>
<polyline points="692.2,3223.6 697.0,3203.4 705.9,3190.5 714.0,3180.4"/>
<polyline points="765.8,3225.7 773.9,3203.4 788.0,3190.5 796.9,3180.4"/>
<polyline points="839.4,3228.5 851.5,3217.6 856.7,3201.4 872.9,3189.3 881.0,3180.4"/>
<polyline points="903.2,3180.4 911.3,3187.3 935.2,3194.6"/>
<polyline points="978.4,3241.2 984.1,3260.0 987.3,3288.3 988.9,3332.8 990.2,3393.5 992.2,3469.9 993.0,3496.3 993.0,3496.6"/>
<polyline points="994.2,3556.6 994.2,3558.9 998.2,3631.7 1004.3,3723.9 903.2,3838.7"/>
<polyline points="1044.7,3180.4 1052.8,3188.1 1079.1,3200.2 1085.2,3213.5 1101.3,3229.7 1107.4,3260.0 1109.4,3288.3 1110.2,3332.8 1110.2,3401.5 1110.3,3403.9"/>
<polyline points="1112.4,3463.8 1112.7,3470.0 1113.5,3550.9 1115.5,3631.7 1118.3,3722.0"/>
<polyline points="1096.0,3777.6 1095.3,3779.3 1062.9,3838.7"/>
<polyline points="1165.2,3180.4 1174.1,3189.3 1186.3,3203.4 1194.3,3231.7 1198.4,3272.2 1201.2,3312.6 1202.4,3397.5 1202.5,3403.9"/>
<polyline points="1203.2,3463.9 1203.2,3470.0 1204.9,3591.3 1207.3,3718.7 1207.0,3719.6"/>
<polyline points="1189.0,3776.8 1188.3,3779.3 1168.1,3838.7"/>
<polyline points="1265.5,3180.4 1272.8,3191.3 1278.8,3211.5 1285.7,3229.7 1288.9,3260.0 1291.0,3312.6 1292.2,3401.5 1292.2,3401.9"/>
<polyline points="1292.2,3461.9 1292.2,3470.0 1293.8,3591.3 1295.8,3722.7 1295.1,3724.5"/>
<polyline points="1274.2,3780.7 1274.0,3781.3 1252.6,3838.7"/>
<polyline points="1426.4,3180.4 1420.4,3191.3 1410.2,3199.4 1404.2,3215.6 1394.1,3231.7 1393.7,3236.2"/>
<polyline points="1388.2,3295.9 1388.0,3298.4 1386.0,3353.0 1385.2,3469.9 1384.0,3554.9 1383.9,3557.2"/>
<polyline points="1382.0,3617.2 1381.9,3617.6 1379.9,3722.7 1456.7,3838.7"/>
<polyline points="1550.9,3196.1 1543.7,3203.4 1535.6,3221.6 1524.7,3231.7 1522.6,3243.9 1522.4,3246.2"/>
<polyline points="1517.6,3306.1 1517.4,3308.5 1515.4,3393.5 1513.3,3469.9 1512.5,3565.0 1512.5,3566.2"/>
<polyline points="1509.4,3626.1 1509.3,3627.7 1505.3,3723.9 1550.9,3784.6 1610.4,3726.7 1610.4,3725.6"/>
<polyline points="1609.2,3665.6 1609.2,3664.1 1602.3,3550.9 1601.1,3470.0 1599.5,3405.6 1599.5,3405.2"/>
<polyline points="1598.3,3345.3 1598.2,3344.9 1594.2,3280.2 1584.1,3231.7 1565.9,3219.6 1557.8,3203.4 1550.9,3196.1"/>
<polyline points="1723.6,3180.4 1733.7,3191.3 1747.8,3201.4 1749.3,3205.7"/>
<polyline points="1768.7,3262.5 1769.3,3264.1 1770.9,3332.8 1780.2,3393.5 1777.4,3431.9 1788.3,3469.9 1790.3,3518.5 1790.5,3520.8"/>
<polyline points="1796.1,3580.6 1796.4,3583.2 1815.0,3623.6 1831.2,3724.7 1800.0,3732.8 1772.1,3740.9 1703.4,3838.7"/>
<polyline points="2061.6,3180.4 2055.6,3189.3 2041.4,3201.4 2035.4,3219.6 2027.3,3230.9 2027.2,3232.1"/>
<polyline points="2023.2,3292.0 2023.2,3292.4 2022.0,3353.0 2021.2,3469.9 2020.4,3550.9 2020.3,3552.4"/>
<polyline points="2017.2,3612.3 2017.2,3613.5 2015.1,3723.9 2033.3,3838.7"/>
<polyline points="2214.0,3225.0 2203.1,3231.7 2195.1,3260.0 2195.0,3261.6"/>
<polyline points="2191.1,3321.4 2191.0,3322.7 2189.0,3393.5 2187.8,3469.9 2186.2,3550.9 2183.7,3579.2 2183.6,3581.5"/>
<polyline points="2180.1,3641.4 2180.1,3641.8 2176.9,3723.9 2214.1,3769.2"/>
</g>
<g font-family="'Liberation Sans', sans-serif" font-size="21" fill="#000" stroke="#000" stroke-width="0.35" text-anchor="middle">
<text transform="translate(956.6 3218.0) rotate(47.2)" y="7.6">6.31</text>
<text transform="translate(993.0 3526.6) rotate(88.9)" y="7.6">6.31</text>
<text transform="translate(1110.2 3433.9) rotate(88.0)" y="7.6">4.96</text>
<text transform="translate(1110.2 3751.0) rotate(-68.1)" y="7.6">4.96</text>
<text transform="translate(1202.3 3433.9) rotate(89.4)" y="7.6">3.62</text>
<text transform="translate(1200.5 3749.0) rotate(-72.6)" y="7.6">3.62</text>
<text transform="translate(1291.4 3431.9) rotate(90.0)" y="7.6">2.28</text>
<text transform="translate(1285.7 3753.0) rotate(-69.6)" y="7.6">2.28</text>
<text transform="translate(1391.6 3266.1) rotate(-84.8)" y="7.6">2.28</text>
<text transform="translate(1384.0 3587.3) rotate(-88.2)" y="7.6">2.28</text>
<text transform="translate(1520.6 3276.2) rotate(-85.4)" y="7.6">3.62</text>
<text transform="translate(1511.3 3596.1) rotate(-87.0)" y="7.6">3.62</text>
<text transform="translate(1610.4 3695.6) rotate(88.9)" y="7.6">3.62</text>
<text transform="translate(1598.7 3375.3) rotate(88.9)" y="7.6">3.62</text>
<text transform="translate(1760.0 3233.7) rotate(71.1)" y="7.6">2.28</text>
<text transform="translate(1791.5 3550.9) rotate(84.6)" y="7.6">2.28</text>
<text transform="translate(2025.2 3262.0) rotate(-86.2)" y="7.6">2.28</text>
<text transform="translate(2020.4 3582.4) rotate(-87.0)" y="7.6">2.28</text>
<text transform="translate(2193.8 3291.6) rotate(-86.3)" y="7.6">3.62</text>
<text transform="translate(2182.9 3611.5) rotate(-86.7)" y="7.6">3.62</text>
</g>
<g stroke="#262626" stroke-width="1" fill="none">
<rect x="226.8" y="3181.2" width="1985.6000000000001" height="657.9000000000001"/>
<line x1="382.0" y1="3839.1" x2="382.0" y2="3820.1"/>
<line x1="382.0" y1="3181.2" x2="382.0" y2="3200.2"/>
<line x1="558.5" y1="3839.1" x2="558.5" y2="3820.1"/>
<line x1="558.5" y1="3181.2" x2="558.5" y2="3200.2"/>
<line x1="734.9" y1="3839.1" x2="734.9" y2="3820.1"/>
<line x1="734.9" y1="3181.2" x2="734.9" y2="3200.2"/>
<line x1="911.3" y1="3839.1" x2="911.3" y2="3820.1"/>
<line x1="911.3" y1="3181.2" x2="911.3" y2="3200.2"/>
<line x1="1087.8" y1="3839.1" x2="1087.8" y2="3820.1"/>
<line x1="1087.8" y1="3181.2" x2="1087.8" y2="3200.2"/>
<line x1="1264.2" y1="3839.1" x2="1264.2" y2="3820.1"/>
<line x1="1264.2" y1="3181.2" x2="1264.2" y2="3200.2"/>
<line x1="1440.7" y1="3839.1" x2="1440.7" y2="3820.1"/>
<line x1="1440.7" y1="3181.2" x2="1440.7" y2="3200.2"/>
<line x1="1617.1" y1="3839.1" x2="1617.1" y2="3820.1"/>
<line x1="1617.1" y1="3181.2" x2="1617.1" y2="3200.2"/>
<line x1="1793.6" y1="3839.1" x2="1793.6" y2="3820.1"/>
<line x1="1793.6" y1="3181.2" x2="1793.6" y2="3200.2"/>
<line x1="1970.0" y1="3839.1" x2="1970.0" y2="3820.1"/>
<line x1="1970.0" y1="3181.2" x2="1970.0" y2="3200.2"/>
<line x1="2146.5" y1="3839.1" x2="2146.5" y2="3820.1"/>
<line x1="2146.5" y1="3181.2" x2="2146.5" y2="3200.2"/>
<line x1="226.8" y1="3314.2" x2="245.8" y2="3314.2"/>
<line x1="2212.4" y1="3314.2" x2="2193.4" y2="3314.2"/>
<line x1="226.8" y1="3450.9" x2="245.8" y2="3450.9"/>
<line x1="2212.4" y1="3450.9" x2="2193.4" y2="3450.9"/>
<line x1="226.8" y1="3587.6" x2="245.8" y2="3587.6"/>
<line x1="2212.4" y1="3587.6" x2="2193.4" y2="3587.6"/>
<line x1="226.8" y1="3724.3" x2="245.8" y2="3724.3"/>
<line x1="2212.4" y1="3724.3" x2="2193.4" y2="3724.3"/>
</g>
<g font-family="'Liberation Sans', sans-serif" font-size="57.5" fill="#262626" stroke="#262626" stroke-width="0.5">
<text x="382.0" y="3907.9" text-anchor="middle">72.8</text>
<text x="558.5" y="3907.9" text-anchor="middle">73</text>
<text x="734.9" y="3907.9" text-anchor="middle">73.2</text>
<text x="911.3" y="3907.9" text-anchor="middle">73.4</text>
<text x="1087.8" y="3907.9" text-anchor="middle">73.6</text>
<text x="1264.2" y="3907.9" text-anchor="middle">73.8</text>
<text x="1440.7" y="3907.9" text-anchor="middle">74</text>
<text x="1617.1" y="3907.9" text-anchor="middle">74.2</text>
<text x="1793.6" y="3907.9" text-anchor="middle">74.4</text>
<text x="1970.0" y="3907.9" text-anchor="middle">74.6</text>
<text x="2146.5" y="3907.9" text-anchor="middle">74.8</text>
<text x="211.8" y="3334.9" text-anchor="end">200</text>
<text x="211.8" y="3471.6" text-anchor="end">400</text>
<text x="211.8" y="3608.3" text-anchor="end">600</text>
<text x="211.8" y="3745.0" text-anchor="end">800</text>
</g>
<text font-family="'Liberation Sans', sans-serif" font-size="63.6" fill="#262626" stroke="#262626" stroke-width="0.6" text-anchor="middle" x="1219.6" y="3987.1">Latitude [°]</text>
<text font-family="'Liberation Sans', sans-serif" font-size="63.6" fill="#262626" stroke="#262626" stroke-width="0.6" text-anchor="middle" transform="translate(70.3 3510.1) rotate(-90)">Depth [m]</text>
<text font-family="'Liberation Serif', serif" font-size="84" fill="#000" text-anchor="start" x="1226.5" y="3135.2">(<tspan font-weight="bold">d</tspan>)</text>
<g font-family="'Liberation Sans', sans-serif" font-size="59.7" fill="#000">
<text x="248.8" y="3651.9" textLength="382" lengthAdjust="spacingAndGlyphs">Beaufort Gyre</text>
<text x="248.8" y="3732.8" textLength="250" lengthAdjust="spacingAndGlyphs">19th Sep.</text>
</g>
<text font-family="'Liberation Serif', serif" font-size="70" fill="#000" x="251.8" y="3816.5">ν</text>
<text font-family="'Liberation Sans', sans-serif" font-style="italic" font-size="35" fill="#000" x="286.8" y="3816.5" textLength="189" lengthAdjust="spacingAndGlyphs">geostrophic</text>
<path d="M254.3 3768.9 h16.0 v-3 l21 5.6 l-21 5.6 v-3 h-16.0 z" fill="#111"/>
<rect x="2230.6" y="3181.2" width="36.0" height="657.9000000000001" fill="url(#blues)"/>
<g stroke="#262626" stroke-width="1.2" fill="none">
<rect x="2230.6" y="3181.2" width="36.0" height="657.9000000000001"/>
<line x1="2260.6" y1="3619.8" x2="2266.6" y2="3619.8"/>
<line x1="2260.6" y1="3400.5" x2="2266.6" y2="3400.5"/>
</g>
<g font-family="'Liberation Sans', sans-serif" font-size="53.5" fill="#262626" stroke="#262626" stroke-width="0.5">
<text x="2281.0" y="3859.1">0</text>
<text x="2281.0" y="3639.8">2</text>
<text x="2281.0" y="3420.5">4</text>
<text x="2281.0" y="3201.2">6</text>
</g>
<text font-family="'Liberation Sans', sans-serif" font-size="52.9" fill="#000" text-anchor="middle" transform="translate(2360.5 3529.7) rotate(-90)" textLength="390" lengthAdjust="spacingAndGlyphs">non-dim. currents</text>
</g>
</svg>
</body>
</html>
